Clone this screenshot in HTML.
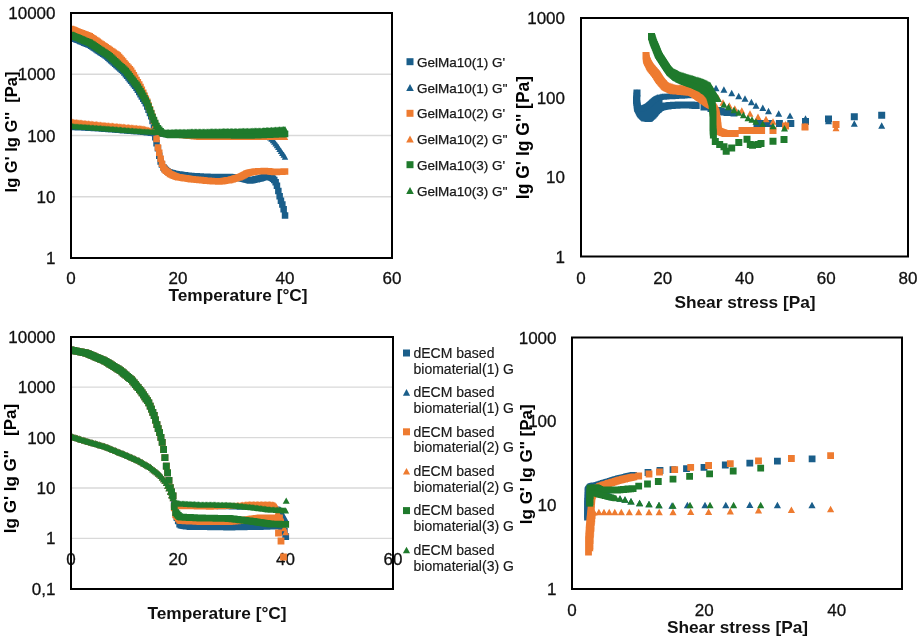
<!DOCTYPE html><html><head><meta charset="utf-8"><style>html,body{margin:0;padding:0;background:#fff;width:920px;height:641px;overflow:hidden}svg{display:block;will-change:transform}</style></head><body><svg width="920" height="641" viewBox="0 0 920 641" font-family="&quot;Liberation Sans&quot;, sans-serif">
<style>text[font-weight="normal"]{stroke:#111;stroke-width:0.3px;stroke-linejoin:round}text.lg{stroke-width:0.25px}text.lg2{stroke:#1a1a1a;stroke-width:0.18px}</style>
<rect width="920" height="641" fill="#fff"/>
<line x1="72" x2="391" y1="74.25" y2="74.25" stroke="#d9d9d9" stroke-width="1.3"/>
<line x1="72" x2="391" y1="135.5" y2="135.5" stroke="#d9d9d9" stroke-width="1.3"/>
<line x1="72" x2="391" y1="196.75" y2="196.75" stroke="#d9d9d9" stroke-width="1.3"/>
<line x1="72" x2="392" y1="387.2" y2="387.2" stroke="#d9d9d9" stroke-width="1.3"/>
<line x1="72" x2="392" y1="437.6" y2="437.6" stroke="#d9d9d9" stroke-width="1.3"/>
<line x1="72" x2="392" y1="488.0" y2="488.0" stroke="#d9d9d9" stroke-width="1.3"/>
<line x1="72" x2="392" y1="538.4" y2="538.4" stroke="#d9d9d9" stroke-width="1.3"/>
<text x="55.5" y="19" font-size="17" text-anchor="end" font-weight="normal" fill="#111">10000</text>
<text x="55.5" y="80.25" font-size="17" text-anchor="end" font-weight="normal" fill="#111">1000</text>
<text x="55.5" y="141.5" font-size="17" text-anchor="end" font-weight="normal" fill="#111">100</text>
<text x="55.5" y="202.75" font-size="17" text-anchor="end" font-weight="normal" fill="#111">10</text>
<text x="55.5" y="264" font-size="17" text-anchor="end" font-weight="normal" fill="#111">1</text>
<text x="71" y="283.5" font-size="17" text-anchor="middle" font-weight="normal" fill="#111">0</text>
<text x="178" y="283.5" font-size="17" text-anchor="middle" font-weight="normal" fill="#111">20</text>
<text x="285" y="283.5" font-size="17" text-anchor="middle" font-weight="normal" fill="#111">40</text>
<text x="392" y="283.5" font-size="17" text-anchor="middle" font-weight="normal" fill="#111">60</text>
<text x="238" y="301" font-size="17.3" text-anchor="middle" font-weight="bold" fill="#111">Temperature [°C]</text>
<text transform="translate(16.7 132) rotate(-90)" font-size="16.5" font-weight="bold" text-anchor="middle" fill="#000" xml:space="preserve">lg G' lg G''  [Pa]</text>
<text x="565" y="24" font-size="17" text-anchor="end" font-weight="normal" fill="#111">1000</text>
<text x="565" y="103.5" font-size="17" text-anchor="end" font-weight="normal" fill="#111">100</text>
<text x="565" y="183" font-size="17" text-anchor="end" font-weight="normal" fill="#111">10</text>
<text x="565" y="262.5" font-size="17" text-anchor="end" font-weight="normal" fill="#111">1</text>
<text x="581" y="284" font-size="17" text-anchor="middle" font-weight="normal" fill="#111">0</text>
<text x="662.7" y="284" font-size="17" text-anchor="middle" font-weight="normal" fill="#111">20</text>
<text x="744.5" y="284" font-size="17" text-anchor="middle" font-weight="normal" fill="#111">40</text>
<text x="826.2" y="284" font-size="17" text-anchor="middle" font-weight="normal" fill="#111">60</text>
<text x="908" y="284" font-size="17" text-anchor="middle" font-weight="normal" fill="#111">80</text>
<text x="745" y="308" font-size="17.3" text-anchor="middle" font-weight="bold" fill="#111">Shear stress [Pa]</text>
<text transform="translate(528.8 137.5) rotate(-90)" font-size="17.5" font-weight="bold" text-anchor="middle" fill="#000">lg G' lg G'' [Pa]</text>
<text x="55.5" y="343" font-size="17" text-anchor="end" font-weight="normal" fill="#111">10000</text>
<text x="55.5" y="393.2" font-size="17" text-anchor="end" font-weight="normal" fill="#111">1000</text>
<text x="55.5" y="443.6" font-size="17" text-anchor="end" font-weight="normal" fill="#111">100</text>
<text x="55.5" y="494.0" font-size="17" text-anchor="end" font-weight="normal" fill="#111">10</text>
<text x="55.5" y="544.4" font-size="17" text-anchor="end" font-weight="normal" fill="#111">1</text>
<text x="55.5" y="595" font-size="17" text-anchor="end" font-weight="normal" fill="#111">0,1</text>
<text x="71" y="564.5" font-size="17" text-anchor="middle" font-weight="normal" fill="#111">0</text>
<text x="178" y="564.5" font-size="17" text-anchor="middle" font-weight="normal" fill="#111">20</text>
<text x="285.5" y="564.5" font-size="17" text-anchor="middle" font-weight="normal" fill="#111">40</text>
<text x="393" y="564.5" font-size="17" text-anchor="middle" font-weight="normal" fill="#111">60</text>
<text x="217" y="619" font-size="17.3" text-anchor="middle" font-weight="bold" fill="#111">Temperature [°C]</text>
<text transform="translate(16.3 468.5) rotate(-90)" font-size="17" font-weight="bold" text-anchor="middle" fill="#000" xml:space="preserve">lg G' lg G''   [Pa]</text>
<text x="556.5" y="343.5" font-size="17" text-anchor="end" font-weight="normal" fill="#111">1000</text>
<text x="556.5" y="427.2" font-size="17" text-anchor="end" font-weight="normal" fill="#111">100</text>
<text x="556.5" y="510.8" font-size="17" text-anchor="end" font-weight="normal" fill="#111">10</text>
<text x="556.5" y="594.5" font-size="17" text-anchor="end" font-weight="normal" fill="#111">1</text>
<text x="572" y="615.5" font-size="17" text-anchor="middle" font-weight="normal" fill="#111">0</text>
<text x="704.2" y="615.5" font-size="17" text-anchor="middle" font-weight="normal" fill="#111">20</text>
<text x="836.8" y="615.5" font-size="17" text-anchor="middle" font-weight="normal" fill="#111">40</text>
<text x="737.5" y="632.5" font-size="17.3" text-anchor="middle" font-weight="bold" fill="#111">Shear stress [Pa]</text>
<text transform="translate(531.8 464.3) rotate(-90)" font-size="17" font-weight="bold" text-anchor="middle" fill="#000">lg G' lg G'' [Pa]</text>
<path fill="#1a5e8a" d="M406.5 58.2h7v7h-7z"/>
<text x="417" y="66.95" font-size="13.5" text-anchor="start" font-weight="normal" fill="#1a1a1a" class="lg">GelMa10(1) G&#39;</text>
<path fill="#1a5e8a" d="M410.0 84.0l3.8 6.992h-7.6z"/>
<text x="417" y="92.7" font-size="13.5" text-anchor="start" font-weight="normal" fill="#1a1a1a" class="lg">GelMa10(1) G&#39;&#39;</text>
<path fill="#ee7b30" d="M406.5 109.8h7v7h-7z"/>
<text x="417" y="118.45" font-size="13.5" text-anchor="start" font-weight="normal" fill="#1a1a1a" class="lg">GelMa10(2) G&#39;</text>
<path fill="#ee7b30" d="M410.0 135.5l3.8 6.992h-7.6z"/>
<text x="417" y="144.2" font-size="13.5" text-anchor="start" font-weight="normal" fill="#1a1a1a" class="lg">GelMa10(2) G&#39;&#39;</text>
<path fill="#1f7a2c" d="M406.5 161.2h7v7h-7z"/>
<text x="417" y="169.95" font-size="13.5" text-anchor="start" font-weight="normal" fill="#1a1a1a" class="lg">GelMa10(3) G&#39;</text>
<path fill="#1f7a2c" d="M410.0 187.0l3.8 6.992h-7.6z"/>
<text x="417" y="195.7" font-size="13.5" text-anchor="start" font-weight="normal" fill="#1a1a1a" class="lg">GelMa10(3) G&#39;&#39;</text>
<path fill="#1a5e8a" d="M403.0 349.5h7v7h-7z"/>
<text x="413.5" y="357.8" font-size="14" text-anchor="start" font-weight="normal" fill="#1a1a1a" class="lg2">dECM based</text>
<text x="413.5" y="373.6" font-size="14" text-anchor="start" font-weight="normal" fill="#1a1a1a" class="lg2">biomaterial(1) G</text>
<path fill="#1a5e8a" d="M406.5 389.1l3.6 6.624h-7.2z"/>
<text x="413.5" y="397.2" font-size="14" text-anchor="start" font-weight="normal" fill="#1a1a1a" class="lg2">dECM based</text>
<text x="413.5" y="413.0" font-size="14" text-anchor="start" font-weight="normal" fill="#1a1a1a" class="lg2">biomaterial(1) G</text>
<path fill="#ee7b30" d="M403.0 428.3h7v7h-7z"/>
<text x="413.5" y="436.6" font-size="14" text-anchor="start" font-weight="normal" fill="#1a1a1a" class="lg2">dECM based</text>
<text x="413.5" y="452.40000000000003" font-size="14" text-anchor="start" font-weight="normal" fill="#1a1a1a" class="lg2">biomaterial(2) G</text>
<path fill="#ee7b30" d="M406.5 467.9l3.6 6.624h-7.2z"/>
<text x="413.5" y="476.0" font-size="14" text-anchor="start" font-weight="normal" fill="#1a1a1a" class="lg2">dECM based</text>
<text x="413.5" y="491.8" font-size="14" text-anchor="start" font-weight="normal" fill="#1a1a1a" class="lg2">biomaterial(2) G</text>
<path fill="#1f7a2c" d="M403.0 507.1h7v7h-7z"/>
<text x="413.5" y="515.4" font-size="14" text-anchor="start" font-weight="normal" fill="#1a1a1a" class="lg2">dECM based</text>
<text x="413.5" y="531.2" font-size="14" text-anchor="start" font-weight="normal" fill="#1a1a1a" class="lg2">biomaterial(3) G</text>
<path fill="#1f7a2c" d="M406.5 546.7l3.6 6.624h-7.2z"/>
<text x="413.5" y="554.8" font-size="14" text-anchor="start" font-weight="normal" fill="#1a1a1a" class="lg2">dECM based</text>
<text x="413.5" y="570.6" font-size="14" text-anchor="start" font-weight="normal" fill="#1a1a1a" class="lg2">biomaterial(3) G</text>
<defs>
<clipPath id="cTL"><rect x="71" y="13" width="321" height="245"/></clipPath>
<clipPath id="cBL"><rect x="71" y="337" width="322" height="252"/></clipPath>
<clipPath id="cTR"><rect x="581" y="18" width="327" height="238.5"/></clipPath>
<clipPath id="cBR"><rect x="572" y="337.5" width="330" height="251.5"/></clipPath>
</defs>
<path fill="#1a5e8a" d="M67.8 33.8h6.5v6.5h-6.5zM69.1 34.3h6.5v6.5h-6.5zM70.4 34.9h6.5v6.5h-6.5zM71.8 35.4h6.5v6.5h-6.5zM73.1 36.0h6.5v6.5h-6.5zM74.4 36.6h6.5v6.5h-6.5zM75.8 37.1h6.5v6.5h-6.5zM77.1 37.7h6.5v6.5h-6.5zM78.5 38.3h6.5v6.5h-6.5zM79.8 38.8h6.5v6.5h-6.5zM81.1 39.4h6.5v6.5h-6.5zM82.5 39.9h6.5v6.5h-6.5zM83.8 40.5h6.5v6.5h-6.5zM85.1 41.1h6.5v6.5h-6.5zM86.5 41.6h6.5v6.5h-6.5zM87.8 42.5h6.5v6.5h-6.5zM89.2 43.3h6.5v6.5h-6.5zM90.5 44.2h6.5v6.5h-6.5zM91.8 45.1h6.5v6.5h-6.5zM93.2 46.0h6.5v6.5h-6.5zM94.5 46.9h6.5v6.5h-6.5zM95.8 47.8h6.5v6.5h-6.5zM97.2 48.7h6.5v6.5h-6.5zM98.5 49.5h6.5v6.5h-6.5zM99.8 50.4h6.5v6.5h-6.5zM101.2 51.3h6.5v6.5h-6.5zM102.5 52.2h6.5v6.5h-6.5zM103.9 53.3h6.5v6.5h-6.5zM105.2 54.5h6.5v6.5h-6.5zM106.5 55.7h6.5v6.5h-6.5zM107.9 56.9h6.5v6.5h-6.5zM109.2 58.1h6.5v6.5h-6.5zM110.5 59.3h6.5v6.5h-6.5zM111.9 60.5h6.5v6.5h-6.5zM113.2 61.7h6.5v6.5h-6.5zM114.6 62.9h6.5v6.5h-6.5zM115.9 64.1h6.5v6.5h-6.5zM117.2 65.3h6.5v6.5h-6.5zM118.6 66.5h6.5v6.5h-6.5zM119.9 67.6h6.5v6.5h-6.5zM121.2 69.2h6.5v6.5h-6.5zM122.6 70.9h6.5v6.5h-6.5zM123.9 72.5h6.5v6.5h-6.5zM125.3 74.2h6.5v6.5h-6.5zM126.6 75.9h6.5v6.5h-6.5zM127.9 77.5h6.5v6.5h-6.5zM129.3 79.2h6.5v6.5h-6.5zM130.6 80.9h6.5v6.5h-6.5zM131.9 82.6h6.5v6.5h-6.5zM133.3 84.4h6.5v6.5h-6.5zM134.6 86.6h6.5v6.5h-6.5zM136.0 88.8h6.5v6.5h-6.5zM137.3 91.0h6.5v6.5h-6.5zM138.6 93.2h6.5v6.5h-6.5zM140.0 95.4h6.5v6.5h-6.5zM141.3 97.6h6.5v6.5h-6.5zM142.6 100.1h6.5v6.5h-6.5zM144.0 103.3h6.5v6.5h-6.5zM145.3 106.5h6.5v6.5h-6.5zM146.7 109.7h6.5v6.5h-6.5zM148.0 113.0h6.5v6.5h-6.5zM149.3 117.7h6.5v6.5h-6.5zM150.7 124.4h6.5v6.5h-6.5zM152.0 134.0h6.5v6.5h-6.5zM153.3 140.0h6.5v6.5h-6.5zM154.7 145.1h6.5v6.5h-6.5zM156.0 152.6h6.5v6.5h-6.5zM157.4 158.2h6.5v6.5h-6.5zM158.7 161.3h6.5v6.5h-6.5zM160.0 164.0h6.5v6.5h-6.5zM161.4 165.4h6.5v6.5h-6.5zM162.7 166.7h6.5v6.5h-6.5zM164.1 168.1h6.5v6.5h-6.5zM165.4 168.9h6.5v6.5h-6.5zM166.7 169.3h6.5v6.5h-6.5zM168.1 169.7h6.5v6.5h-6.5zM169.4 170.1h6.5v6.5h-6.5zM170.7 170.5h6.5v6.5h-6.5zM172.1 170.8h6.5v6.5h-6.5zM173.4 171.0h6.5v6.5h-6.5zM174.8 171.2h6.5v6.5h-6.5zM176.1 171.3h6.5v6.5h-6.5zM177.4 171.5h6.5v6.5h-6.5zM178.8 171.7h6.5v6.5h-6.5zM180.1 171.9h6.5v6.5h-6.5zM181.4 172.0h6.5v6.5h-6.5zM182.8 172.2h6.5v6.5h-6.5zM184.1 172.4h6.5v6.5h-6.5zM185.4 172.6h6.5v6.5h-6.5zM186.8 172.8h6.5v6.5h-6.5zM188.1 172.8h6.5v6.5h-6.5zM189.5 172.9h6.5v6.5h-6.5zM190.8 173.0h6.5v6.5h-6.5zM192.1 173.0h6.5v6.5h-6.5zM193.5 173.1h6.5v6.5h-6.5zM194.8 173.2h6.5v6.5h-6.5zM196.1 173.2h6.5v6.5h-6.5zM197.5 173.3h6.5v6.5h-6.5zM198.8 173.4h6.5v6.5h-6.5zM200.2 173.4h6.5v6.5h-6.5zM201.5 173.5h6.5v6.5h-6.5zM202.8 173.6h6.5v6.5h-6.5zM204.2 173.6h6.5v6.5h-6.5zM205.5 173.7h6.5v6.5h-6.5zM206.8 173.8h6.5v6.5h-6.5zM208.2 173.8h6.5v6.5h-6.5zM209.5 173.8h6.5v6.5h-6.5zM210.9 173.8h6.5v6.5h-6.5zM212.2 173.8h6.5v6.5h-6.5zM213.5 173.8h6.5v6.5h-6.5zM214.9 173.8h6.5v6.5h-6.5zM216.2 173.8h6.5v6.5h-6.5zM217.5 173.8h6.5v6.5h-6.5zM218.9 173.8h6.5v6.5h-6.5zM220.2 173.8h6.5v6.5h-6.5zM221.6 173.8h6.5v6.5h-6.5zM222.9 173.8h6.5v6.5h-6.5zM224.2 173.8h6.5v6.5h-6.5zM225.6 173.8h6.5v6.5h-6.5zM226.9 173.8h6.5v6.5h-6.5zM228.2 173.9h6.5v6.5h-6.5zM229.6 174.0h6.5v6.5h-6.5zM230.9 174.2h6.5v6.5h-6.5zM232.3 174.3h6.5v6.5h-6.5zM233.6 174.4h6.5v6.5h-6.5zM234.9 174.6h6.5v6.5h-6.5zM236.3 174.7h6.5v6.5h-6.5zM237.6 175.0h6.5v6.5h-6.5zM238.9 175.3h6.5v6.5h-6.5zM240.3 175.6h6.5v6.5h-6.5zM241.6 176.0h6.5v6.5h-6.5zM243.0 176.3h6.5v6.5h-6.5zM244.3 176.6h6.5v6.5h-6.5zM245.6 177.0h6.5v6.5h-6.5zM247.0 177.2h6.5v6.5h-6.5zM248.3 176.9h6.5v6.5h-6.5zM249.6 176.7h6.5v6.5h-6.5zM251.0 176.4h6.5v6.5h-6.5zM252.3 176.1h6.5v6.5h-6.5zM253.7 175.9h6.5v6.5h-6.5zM255.0 175.6h6.5v6.5h-6.5zM256.3 175.3h6.5v6.5h-6.5zM257.7 174.9h6.5v6.5h-6.5zM259.0 174.4h6.5v6.5h-6.5zM260.4 174.0h6.5v6.5h-6.5zM261.7 173.5h6.5v6.5h-6.5zM263.0 173.0h6.5v6.5h-6.5zM264.4 173.0h6.5v6.5h-6.5zM265.7 173.5h6.5v6.5h-6.5zM267.0 174.1h6.5v6.5h-6.5zM268.4 174.6h6.5v6.5h-6.5zM269.7 175.6h6.5v6.5h-6.5zM271.0 176.7h6.5v6.5h-6.5zM272.4 179.0h6.5v6.5h-6.5zM273.7 182.5h6.5v6.5h-6.5zM275.1 187.7h6.5v6.5h-6.5zM276.4 192.9h6.5v6.5h-6.5zM277.7 197.4h6.5v6.5h-6.5zM279.1 201.2h6.5v6.5h-6.5zM280.4 205.9h6.5v6.5h-6.5zM281.8 212.3h6.5v6.5h-6.5z" clip-path="url(#cTL)"/>
<path fill="#1a5e8a" d="M71.0 124.0l3.25 5.98h-6.5zM72.3 124.1l3.25 5.98h-6.5zM73.7 124.1l3.25 5.98h-6.5zM75.0 124.2l3.25 5.98h-6.5zM76.3 124.3l3.25 5.98h-6.5zM77.7 124.4l3.25 5.98h-6.5zM79.0 124.4l3.25 5.98h-6.5zM80.4 124.5l3.25 5.98h-6.5zM81.7 124.6l3.25 5.98h-6.5zM83.0 124.6l3.25 5.98h-6.5zM84.4 124.7l3.25 5.98h-6.5zM85.7 124.8l3.25 5.98h-6.5zM87.0 124.8l3.25 5.98h-6.5zM88.4 124.9l3.25 5.98h-6.5zM89.7 125.0l3.25 5.98h-6.5zM91.1 125.0l3.25 5.98h-6.5zM92.4 125.1l3.25 5.98h-6.5zM93.7 125.2l3.25 5.98h-6.5zM95.1 125.3l3.25 5.98h-6.5zM96.4 125.3l3.25 5.98h-6.5zM97.8 125.4l3.25 5.98h-6.5zM99.1 125.5l3.25 5.98h-6.5zM100.4 125.5l3.25 5.98h-6.5zM101.8 125.7l3.25 5.98h-6.5zM103.1 125.8l3.25 5.98h-6.5zM104.4 125.9l3.25 5.98h-6.5zM105.8 126.0l3.25 5.98h-6.5zM107.1 126.1l3.25 5.98h-6.5zM108.4 126.2l3.25 5.98h-6.5zM109.8 126.3l3.25 5.98h-6.5zM111.1 126.4l3.25 5.98h-6.5zM112.5 126.5l3.25 5.98h-6.5zM113.8 126.6l3.25 5.98h-6.5zM115.1 126.7l3.25 5.98h-6.5zM116.5 126.8l3.25 5.98h-6.5zM117.8 126.9l3.25 5.98h-6.5zM119.2 127.0l3.25 5.98h-6.5zM120.5 127.1l3.25 5.98h-6.5zM121.8 127.2l3.25 5.98h-6.5zM123.2 127.4l3.25 5.98h-6.5zM124.5 127.5l3.25 5.98h-6.5zM125.8 127.6l3.25 5.98h-6.5zM127.2 127.7l3.25 5.98h-6.5zM128.5 127.8l3.25 5.98h-6.5zM129.8 127.9l3.25 5.98h-6.5zM131.2 128.0l3.25 5.98h-6.5zM132.5 128.1l3.25 5.98h-6.5zM133.9 128.2l3.25 5.98h-6.5zM135.2 128.3l3.25 5.98h-6.5zM136.5 128.4l3.25 5.98h-6.5zM137.9 128.5l3.25 5.98h-6.5zM139.2 128.6l3.25 5.98h-6.5zM140.6 128.7l3.25 5.98h-6.5zM141.9 128.8l3.25 5.98h-6.5zM143.2 128.9l3.25 5.98h-6.5zM144.6 129.1l3.25 5.98h-6.5zM145.9 129.2l3.25 5.98h-6.5zM147.2 129.4l3.25 5.98h-6.5zM148.6 129.6l3.25 5.98h-6.5zM149.9 129.7l3.25 5.98h-6.5zM151.2 129.9l3.25 5.98h-6.5zM152.6 130.1l3.25 5.98h-6.5zM153.9 130.3l3.25 5.98h-6.5zM155.3 130.4l3.25 5.98h-6.5zM156.6 130.6l3.25 5.98h-6.5zM157.9 130.8l3.25 5.98h-6.5zM159.3 130.9l3.25 5.98h-6.5zM160.6 131.0l3.25 5.98h-6.5zM161.9 131.1l3.25 5.98h-6.5zM163.3 131.1l3.25 5.98h-6.5zM164.6 131.1l3.25 5.98h-6.5zM166.0 131.2l3.25 5.98h-6.5zM167.3 131.2l3.25 5.98h-6.5zM168.6 131.2l3.25 5.98h-6.5zM170.0 131.3l3.25 5.98h-6.5zM171.3 131.3l3.25 5.98h-6.5zM172.6 131.3l3.25 5.98h-6.5zM174.0 131.4l3.25 5.98h-6.5zM175.3 131.4l3.25 5.98h-6.5zM176.7 131.4l3.25 5.98h-6.5zM178.0 131.5l3.25 5.98h-6.5zM179.3 131.5l3.25 5.98h-6.5zM180.7 131.5l3.25 5.98h-6.5zM182.0 131.6l3.25 5.98h-6.5zM183.3 131.6l3.25 5.98h-6.5zM184.7 131.6l3.25 5.98h-6.5zM186.0 131.7l3.25 5.98h-6.5zM187.4 131.7l3.25 5.98h-6.5zM188.7 131.7l3.25 5.98h-6.5zM190.0 131.8l3.25 5.98h-6.5zM191.4 131.8l3.25 5.98h-6.5zM192.7 131.8l3.25 5.98h-6.5zM194.1 131.9l3.25 5.98h-6.5zM195.4 131.9l3.25 5.98h-6.5zM196.7 131.9l3.25 5.98h-6.5zM198.1 132.0l3.25 5.98h-6.5zM199.4 132.0l3.25 5.98h-6.5zM200.7 132.0l3.25 5.98h-6.5zM202.1 132.0l3.25 5.98h-6.5zM203.4 132.0l3.25 5.98h-6.5zM204.8 132.0l3.25 5.98h-6.5zM206.1 132.0l3.25 5.98h-6.5zM207.4 132.0l3.25 5.98h-6.5zM208.8 132.0l3.25 5.98h-6.5zM210.1 132.0l3.25 5.98h-6.5zM211.4 132.0l3.25 5.98h-6.5zM212.8 132.0l3.25 5.98h-6.5zM214.1 132.0l3.25 5.98h-6.5zM215.4 132.0l3.25 5.98h-6.5zM216.8 132.0l3.25 5.98h-6.5zM218.1 132.0l3.25 5.98h-6.5zM219.5 132.0l3.25 5.98h-6.5zM220.8 132.0l3.25 5.98h-6.5zM222.1 132.0l3.25 5.98h-6.5zM223.5 132.0l3.25 5.98h-6.5zM224.8 132.0l3.25 5.98h-6.5zM226.1 132.0l3.25 5.98h-6.5zM227.5 132.0l3.25 5.98h-6.5zM228.8 132.0l3.25 5.98h-6.5zM230.2 132.0l3.25 5.98h-6.5zM231.5 132.0l3.25 5.98h-6.5zM232.8 132.0l3.25 5.98h-6.5zM234.2 132.0l3.25 5.98h-6.5zM235.5 132.0l3.25 5.98h-6.5zM236.8 132.0l3.25 5.98h-6.5zM238.2 132.0l3.25 5.98h-6.5zM239.5 132.0l3.25 5.98h-6.5zM240.9 132.0l3.25 5.98h-6.5zM242.2 132.0l3.25 5.98h-6.5zM243.5 132.0l3.25 5.98h-6.5zM244.9 132.0l3.25 5.98h-6.5zM246.2 132.0l3.25 5.98h-6.5zM247.5 132.0l3.25 5.98h-6.5zM248.9 132.0l3.25 5.98h-6.5zM250.2 132.0l3.25 5.98h-6.5zM251.6 132.0l3.25 5.98h-6.5zM252.9 132.0l3.25 5.98h-6.5zM254.2 132.0l3.25 5.98h-6.5zM255.6 132.0l3.25 5.98h-6.5zM256.9 132.0l3.25 5.98h-6.5zM258.2 132.0l3.25 5.98h-6.5zM259.6 132.0l3.25 5.98h-6.5zM260.9 132.0l3.25 5.98h-6.5zM262.3 132.0l3.25 5.98h-6.5zM263.6 132.0l3.25 5.98h-6.5zM264.9 132.0l3.25 5.98h-6.5zM266.3 132.0l3.25 5.98h-6.5zM267.6 132.0l3.25 5.98h-6.5zM268.9 133.0l3.25 5.98h-6.5zM270.3 134.4l3.25 5.98h-6.5zM271.6 135.8l3.25 5.98h-6.5zM273.0 137.2l3.25 5.98h-6.5zM274.3 138.8l3.25 5.98h-6.5zM275.6 140.6l3.25 5.98h-6.5zM277.0 142.3l3.25 5.98h-6.5zM278.3 144.1l3.25 5.98h-6.5zM279.6 146.0l3.25 5.98h-6.5zM281.0 147.9l3.25 5.98h-6.5zM282.3 149.9l3.25 5.98h-6.5zM283.7 151.8l3.25 5.98h-6.5zM285.0 153.8l3.25 5.98h-6.5z" clip-path="url(#cTL)"/>
<path fill="#ee7b30" d="M67.8 25.8h6.5v6.5h-6.5zM69.1 26.3h6.5v6.5h-6.5zM70.4 26.8h6.5v6.5h-6.5zM71.8 27.3h6.5v6.5h-6.5zM73.1 27.9h6.5v6.5h-6.5zM74.4 28.4h6.5v6.5h-6.5zM75.8 28.9h6.5v6.5h-6.5zM77.1 29.4h6.5v6.5h-6.5zM78.5 30.0h6.5v6.5h-6.5zM79.8 30.5h6.5v6.5h-6.5zM81.1 31.0h6.5v6.5h-6.5zM82.5 31.6h6.5v6.5h-6.5zM83.8 32.1h6.5v6.5h-6.5zM85.1 32.6h6.5v6.5h-6.5zM86.5 33.1h6.5v6.5h-6.5zM87.8 34.0h6.5v6.5h-6.5zM89.2 34.9h6.5v6.5h-6.5zM90.5 35.8h6.5v6.5h-6.5zM91.8 36.7h6.5v6.5h-6.5zM93.2 37.6h6.5v6.5h-6.5zM94.5 38.5h6.5v6.5h-6.5zM95.8 39.4h6.5v6.5h-6.5zM97.2 40.4h6.5v6.5h-6.5zM98.5 41.3h6.5v6.5h-6.5zM99.8 42.2h6.5v6.5h-6.5zM101.2 43.1h6.5v6.5h-6.5zM102.5 44.0h6.5v6.5h-6.5zM103.9 44.9h6.5v6.5h-6.5zM105.2 45.8h6.5v6.5h-6.5zM106.5 46.7h6.5v6.5h-6.5zM107.9 47.7h6.5v6.5h-6.5zM109.2 48.6h6.5v6.5h-6.5zM110.5 49.5h6.5v6.5h-6.5zM111.9 50.4h6.5v6.5h-6.5zM113.2 51.3h6.5v6.5h-6.5zM114.6 52.2h6.5v6.5h-6.5zM115.9 53.7h6.5v6.5h-6.5zM117.2 55.2h6.5v6.5h-6.5zM118.6 56.8h6.5v6.5h-6.5zM119.9 58.3h6.5v6.5h-6.5zM121.2 59.9h6.5v6.5h-6.5zM122.6 61.4h6.5v6.5h-6.5zM123.9 63.0h6.5v6.5h-6.5zM125.3 64.5h6.5v6.5h-6.5zM126.6 66.0h6.5v6.5h-6.5zM127.9 67.6h6.5v6.5h-6.5zM129.3 69.7h6.5v6.5h-6.5zM130.6 72.0h6.5v6.5h-6.5zM131.9 74.4h6.5v6.5h-6.5zM133.3 76.7h6.5v6.5h-6.5zM134.6 79.0h6.5v6.5h-6.5zM136.0 81.3h6.5v6.5h-6.5zM137.3 83.7h6.5v6.5h-6.5zM138.6 86.6h6.5v6.5h-6.5zM140.0 89.6h6.5v6.5h-6.5zM141.3 92.6h6.5v6.5h-6.5zM142.6 95.6h6.5v6.5h-6.5zM144.0 98.6h6.5v6.5h-6.5zM145.3 102.2h6.5v6.5h-6.5zM146.7 106.0h6.5v6.5h-6.5zM148.0 109.8h6.5v6.5h-6.5zM149.3 113.6h6.5v6.5h-6.5zM150.7 117.5h6.5v6.5h-6.5zM152.0 121.5h6.5v6.5h-6.5zM153.3 135.7h6.5v6.5h-6.5zM154.7 144.2h6.5v6.5h-6.5zM156.0 149.5h6.5v6.5h-6.5zM157.4 155.4h6.5v6.5h-6.5zM158.7 160.6h6.5v6.5h-6.5zM160.0 164.0h6.5v6.5h-6.5zM161.4 166.3h6.5v6.5h-6.5zM162.7 167.4h6.5v6.5h-6.5zM164.1 168.5h6.5v6.5h-6.5zM165.4 169.6h6.5v6.5h-6.5zM166.7 170.7h6.5v6.5h-6.5zM168.1 171.3h6.5v6.5h-6.5zM169.4 171.9h6.5v6.5h-6.5zM170.7 172.5h6.5v6.5h-6.5zM172.1 173.0h6.5v6.5h-6.5zM173.4 173.6h6.5v6.5h-6.5zM174.8 173.9h6.5v6.5h-6.5zM176.1 174.1h6.5v6.5h-6.5zM177.4 174.3h6.5v6.5h-6.5zM178.8 174.5h6.5v6.5h-6.5zM180.1 174.7h6.5v6.5h-6.5zM181.4 174.9h6.5v6.5h-6.5zM182.8 175.1h6.5v6.5h-6.5zM184.1 175.3h6.5v6.5h-6.5zM185.4 175.6h6.5v6.5h-6.5zM186.8 175.8h6.5v6.5h-6.5zM188.1 175.9h6.5v6.5h-6.5zM189.5 176.0h6.5v6.5h-6.5zM190.8 176.2h6.5v6.5h-6.5zM192.1 176.3h6.5v6.5h-6.5zM193.5 176.4h6.5v6.5h-6.5zM194.8 176.6h6.5v6.5h-6.5zM196.1 176.7h6.5v6.5h-6.5zM197.5 176.8h6.5v6.5h-6.5zM198.8 177.0h6.5v6.5h-6.5zM200.2 177.1h6.5v6.5h-6.5zM201.5 177.2h6.5v6.5h-6.5zM202.8 177.4h6.5v6.5h-6.5zM204.2 177.5h6.5v6.5h-6.5zM205.5 177.6h6.5v6.5h-6.5zM206.8 177.8h6.5v6.5h-6.5zM208.2 177.8h6.5v6.5h-6.5zM209.5 177.9h6.5v6.5h-6.5zM210.9 178.0h6.5v6.5h-6.5zM212.2 178.0h6.5v6.5h-6.5zM213.5 178.1h6.5v6.5h-6.5zM214.9 178.2h6.5v6.5h-6.5zM216.2 178.2h6.5v6.5h-6.5zM217.5 178.1h6.5v6.5h-6.5zM218.9 177.9h6.5v6.5h-6.5zM220.2 177.7h6.5v6.5h-6.5zM221.6 177.5h6.5v6.5h-6.5zM222.9 177.3h6.5v6.5h-6.5zM224.2 177.1h6.5v6.5h-6.5zM225.6 176.9h6.5v6.5h-6.5zM226.9 176.7h6.5v6.5h-6.5zM228.2 176.3h6.5v6.5h-6.5zM229.6 175.9h6.5v6.5h-6.5zM230.9 175.5h6.5v6.5h-6.5zM232.3 175.1h6.5v6.5h-6.5zM233.6 174.7h6.5v6.5h-6.5zM234.9 174.3h6.5v6.5h-6.5zM236.3 173.9h6.5v6.5h-6.5zM237.6 173.3h6.5v6.5h-6.5zM238.9 172.7h6.5v6.5h-6.5zM240.3 172.0h6.5v6.5h-6.5zM241.6 171.3h6.5v6.5h-6.5zM243.0 170.6h6.5v6.5h-6.5zM244.3 170.0h6.5v6.5h-6.5zM245.6 169.6h6.5v6.5h-6.5zM247.0 169.3h6.5v6.5h-6.5zM248.3 169.0h6.5v6.5h-6.5zM249.6 168.7h6.5v6.5h-6.5zM251.0 168.4h6.5v6.5h-6.5zM252.3 168.2h6.5v6.5h-6.5zM253.7 168.2h6.5v6.5h-6.5zM255.0 168.1h6.5v6.5h-6.5zM256.3 168.0h6.5v6.5h-6.5zM257.7 168.0h6.5v6.5h-6.5zM259.0 167.9h6.5v6.5h-6.5zM260.4 167.8h6.5v6.5h-6.5zM261.7 167.8h6.5v6.5h-6.5zM263.0 167.9h6.5v6.5h-6.5zM264.4 168.0h6.5v6.5h-6.5zM265.7 168.1h6.5v6.5h-6.5zM267.0 168.3h6.5v6.5h-6.5zM268.4 168.4h6.5v6.5h-6.5zM269.7 168.5h6.5v6.5h-6.5zM271.0 168.7h6.5v6.5h-6.5zM272.4 168.7h6.5v6.5h-6.5zM273.7 168.7h6.5v6.5h-6.5zM275.1 168.6h6.5v6.5h-6.5zM276.4 168.5h6.5v6.5h-6.5zM277.7 168.5h6.5v6.5h-6.5zM279.1 168.4h6.5v6.5h-6.5zM280.4 168.3h6.5v6.5h-6.5zM281.8 168.2h6.5v6.5h-6.5z" clip-path="url(#cTL)"/>
<path fill="#ee7b30" d="M71.0 118.5l3.25 5.98h-6.5zM72.3 118.6l3.25 5.98h-6.5zM73.7 118.8l3.25 5.98h-6.5zM75.0 118.9l3.25 5.98h-6.5zM76.3 119.1l3.25 5.98h-6.5zM77.7 119.2l3.25 5.98h-6.5zM79.0 119.3l3.25 5.98h-6.5zM80.4 119.5l3.25 5.98h-6.5zM81.7 119.6l3.25 5.98h-6.5zM83.0 119.8l3.25 5.98h-6.5zM84.4 119.9l3.25 5.98h-6.5zM85.7 120.0l3.25 5.98h-6.5zM87.0 120.2l3.25 5.98h-6.5zM88.4 120.3l3.25 5.98h-6.5zM89.7 120.4l3.25 5.98h-6.5zM91.1 120.6l3.25 5.98h-6.5zM92.4 120.7l3.25 5.98h-6.5zM93.7 120.9l3.25 5.98h-6.5zM95.1 121.0l3.25 5.98h-6.5zM96.4 121.1l3.25 5.98h-6.5zM97.8 121.3l3.25 5.98h-6.5zM99.1 121.4l3.25 5.98h-6.5zM100.4 121.5l3.25 5.98h-6.5zM101.8 121.7l3.25 5.98h-6.5zM103.1 121.8l3.25 5.98h-6.5zM104.4 121.9l3.25 5.98h-6.5zM105.8 122.0l3.25 5.98h-6.5zM107.1 122.2l3.25 5.98h-6.5zM108.4 122.3l3.25 5.98h-6.5zM109.8 122.4l3.25 5.98h-6.5zM111.1 122.5l3.25 5.98h-6.5zM112.5 122.6l3.25 5.98h-6.5zM113.8 122.8l3.25 5.98h-6.5zM115.1 122.9l3.25 5.98h-6.5zM116.5 123.0l3.25 5.98h-6.5zM117.8 123.1l3.25 5.98h-6.5zM119.2 123.3l3.25 5.98h-6.5zM120.5 123.4l3.25 5.98h-6.5zM121.8 123.5l3.25 5.98h-6.5zM123.2 123.6l3.25 5.98h-6.5zM124.5 123.7l3.25 5.98h-6.5zM125.8 123.9l3.25 5.98h-6.5zM127.2 124.0l3.25 5.98h-6.5zM128.5 124.1l3.25 5.98h-6.5zM129.8 124.2l3.25 5.98h-6.5zM131.2 124.3l3.25 5.98h-6.5zM132.5 124.5l3.25 5.98h-6.5zM133.9 124.6l3.25 5.98h-6.5zM135.2 124.7l3.25 5.98h-6.5zM136.5 124.8l3.25 5.98h-6.5zM137.9 125.0l3.25 5.98h-6.5zM139.2 125.1l3.25 5.98h-6.5zM140.6 125.2l3.25 5.98h-6.5zM141.9 125.3l3.25 5.98h-6.5zM143.2 125.4l3.25 5.98h-6.5zM144.6 125.7l3.25 5.98h-6.5zM145.9 126.0l3.25 5.98h-6.5zM147.2 126.4l3.25 5.98h-6.5zM148.6 126.8l3.25 5.98h-6.5zM149.9 127.2l3.25 5.98h-6.5zM151.2 127.5l3.25 5.98h-6.5zM152.6 127.9l3.25 5.98h-6.5zM153.9 128.3l3.25 5.98h-6.5zM155.3 128.7l3.25 5.98h-6.5zM156.6 129.1l3.25 5.98h-6.5zM157.9 129.4l3.25 5.98h-6.5zM159.3 129.8l3.25 5.98h-6.5zM160.6 130.1l3.25 5.98h-6.5zM161.9 130.2l3.25 5.98h-6.5zM163.3 130.3l3.25 5.98h-6.5zM164.6 130.5l3.25 5.98h-6.5zM166.0 130.6l3.25 5.98h-6.5zM167.3 130.7l3.25 5.98h-6.5zM168.6 130.9l3.25 5.98h-6.5zM170.0 131.0l3.25 5.98h-6.5zM171.3 131.1l3.25 5.98h-6.5zM172.6 131.3l3.25 5.98h-6.5zM174.0 131.4l3.25 5.98h-6.5zM175.3 131.5l3.25 5.98h-6.5zM176.7 131.7l3.25 5.98h-6.5zM178.0 131.8l3.25 5.98h-6.5zM179.3 131.9l3.25 5.98h-6.5zM180.7 132.1l3.25 5.98h-6.5zM182.0 132.2l3.25 5.98h-6.5zM183.3 132.3l3.25 5.98h-6.5zM184.7 132.5l3.25 5.98h-6.5zM186.0 132.6l3.25 5.98h-6.5zM187.4 132.7l3.25 5.98h-6.5zM188.7 132.9l3.25 5.98h-6.5zM190.0 133.0l3.25 5.98h-6.5zM191.4 133.1l3.25 5.98h-6.5zM192.7 133.3l3.25 5.98h-6.5zM194.1 133.4l3.25 5.98h-6.5zM195.4 133.5l3.25 5.98h-6.5zM196.7 133.7l3.25 5.98h-6.5zM198.1 133.8l3.25 5.98h-6.5zM199.4 133.9l3.25 5.98h-6.5zM200.7 134.0l3.25 5.98h-6.5zM202.1 134.0l3.25 5.98h-6.5zM203.4 134.0l3.25 5.98h-6.5zM204.8 134.0l3.25 5.98h-6.5zM206.1 134.0l3.25 5.98h-6.5zM207.4 134.0l3.25 5.98h-6.5zM208.8 134.0l3.25 5.98h-6.5zM210.1 134.0l3.25 5.98h-6.5zM211.4 134.0l3.25 5.98h-6.5zM212.8 134.0l3.25 5.98h-6.5zM214.1 134.0l3.25 5.98h-6.5zM215.4 134.0l3.25 5.98h-6.5zM216.8 134.0l3.25 5.98h-6.5zM218.1 134.0l3.25 5.98h-6.5zM219.5 134.0l3.25 5.98h-6.5zM220.8 134.0l3.25 5.98h-6.5zM222.1 134.0l3.25 5.98h-6.5zM223.5 134.0l3.25 5.98h-6.5zM224.8 134.0l3.25 5.98h-6.5zM226.1 134.0l3.25 5.98h-6.5zM227.5 134.0l3.25 5.98h-6.5zM228.8 134.0l3.25 5.98h-6.5zM230.2 134.0l3.25 5.98h-6.5zM231.5 134.0l3.25 5.98h-6.5zM232.8 134.0l3.25 5.98h-6.5zM234.2 134.0l3.25 5.98h-6.5zM235.5 134.0l3.25 5.98h-6.5zM236.8 134.0l3.25 5.98h-6.5zM238.2 134.0l3.25 5.98h-6.5zM239.5 134.0l3.25 5.98h-6.5zM240.9 134.0l3.25 5.98h-6.5zM242.2 134.0l3.25 5.98h-6.5zM243.5 134.0l3.25 5.98h-6.5zM244.9 134.0l3.25 5.98h-6.5zM246.2 134.0l3.25 5.98h-6.5zM247.5 134.0l3.25 5.98h-6.5zM248.9 134.0l3.25 5.98h-6.5zM250.2 134.0l3.25 5.98h-6.5zM251.6 134.0l3.25 5.98h-6.5zM252.9 134.0l3.25 5.98h-6.5zM254.2 134.0l3.25 5.98h-6.5zM255.6 134.0l3.25 5.98h-6.5zM256.9 134.0l3.25 5.98h-6.5zM258.2 134.0l3.25 5.98h-6.5zM259.6 134.0l3.25 5.98h-6.5zM260.9 134.0l3.25 5.98h-6.5zM262.3 134.0l3.25 5.98h-6.5zM263.6 134.0l3.25 5.98h-6.5zM264.9 134.0l3.25 5.98h-6.5zM266.3 134.0l3.25 5.98h-6.5zM267.6 134.0l3.25 5.98h-6.5zM268.9 134.0l3.25 5.98h-6.5zM270.3 134.0l3.25 5.98h-6.5zM271.6 134.0l3.25 5.98h-6.5zM273.0 134.0l3.25 5.98h-6.5zM274.3 134.0l3.25 5.98h-6.5zM275.6 134.0l3.25 5.98h-6.5zM277.0 134.0l3.25 5.98h-6.5zM278.3 134.0l3.25 5.98h-6.5zM279.6 134.0l3.25 5.98h-6.5zM281.0 134.0l3.25 5.98h-6.5zM282.3 134.0l3.25 5.98h-6.5zM283.7 134.0l3.25 5.98h-6.5zM285.0 134.0l3.25 5.98h-6.5z" clip-path="url(#cTL)"/>
<path fill="#1f7a2c" d="M67.8 31.8h6.5v6.5h-6.5zM69.1 32.3h6.5v6.5h-6.5zM70.4 32.9h6.5v6.5h-6.5zM71.8 33.4h6.5v6.5h-6.5zM73.1 34.0h6.5v6.5h-6.5zM74.4 34.6h6.5v6.5h-6.5zM75.8 35.1h6.5v6.5h-6.5zM77.1 35.7h6.5v6.5h-6.5zM78.5 36.3h6.5v6.5h-6.5zM79.8 36.8h6.5v6.5h-6.5zM81.1 37.4h6.5v6.5h-6.5zM82.5 37.9h6.5v6.5h-6.5zM83.8 38.5h6.5v6.5h-6.5zM85.1 39.1h6.5v6.5h-6.5zM86.5 39.6h6.5v6.5h-6.5zM87.8 40.5h6.5v6.5h-6.5zM89.2 41.3h6.5v6.5h-6.5zM90.5 42.2h6.5v6.5h-6.5zM91.8 43.1h6.5v6.5h-6.5zM93.2 44.0h6.5v6.5h-6.5zM94.5 44.9h6.5v6.5h-6.5zM95.8 45.8h6.5v6.5h-6.5zM97.2 46.7h6.5v6.5h-6.5zM98.5 47.6h6.5v6.5h-6.5zM99.8 48.4h6.5v6.5h-6.5zM101.2 49.3h6.5v6.5h-6.5zM102.5 50.2h6.5v6.5h-6.5zM103.9 51.1h6.5v6.5h-6.5zM105.2 52.0h6.5v6.5h-6.5zM106.5 53.1h6.5v6.5h-6.5zM107.9 54.3h6.5v6.5h-6.5zM109.2 55.5h6.5v6.5h-6.5zM110.5 56.8h6.5v6.5h-6.5zM111.9 58.0h6.5v6.5h-6.5zM113.2 59.2h6.5v6.5h-6.5zM114.6 60.4h6.5v6.5h-6.5zM115.9 61.7h6.5v6.5h-6.5zM117.2 62.9h6.5v6.5h-6.5zM118.6 64.1h6.5v6.5h-6.5zM119.9 65.3h6.5v6.5h-6.5zM121.2 66.6h6.5v6.5h-6.5zM122.6 67.8h6.5v6.5h-6.5zM123.9 69.5h6.5v6.5h-6.5zM125.3 71.2h6.5v6.5h-6.5zM126.6 73.0h6.5v6.5h-6.5zM127.9 74.7h6.5v6.5h-6.5zM129.3 76.4h6.5v6.5h-6.5zM130.6 78.2h6.5v6.5h-6.5zM131.9 79.9h6.5v6.5h-6.5zM133.3 81.6h6.5v6.5h-6.5zM134.6 83.4h6.5v6.5h-6.5zM136.0 85.7h6.5v6.5h-6.5zM137.3 88.0h6.5v6.5h-6.5zM138.6 90.3h6.5v6.5h-6.5zM140.0 92.6h6.5v6.5h-6.5zM141.3 94.9h6.5v6.5h-6.5zM142.6 97.2h6.5v6.5h-6.5zM144.0 99.8h6.5v6.5h-6.5zM145.3 103.2h6.5v6.5h-6.5zM146.7 106.7h6.5v6.5h-6.5zM148.0 110.2h6.5v6.5h-6.5zM149.3 113.7h6.5v6.5h-6.5zM150.7 116.8h6.5v6.5h-6.5zM152.0 119.8h6.5v6.5h-6.5zM153.3 122.8h6.5v6.5h-6.5zM154.7 124.9h6.5v6.5h-6.5zM156.0 126.5h6.5v6.5h-6.5zM157.4 128.1h6.5v6.5h-6.5zM158.7 129.7h6.5v6.5h-6.5zM160.0 130.1h6.5v6.5h-6.5zM161.4 130.4h6.5v6.5h-6.5zM162.7 130.7h6.5v6.5h-6.5zM164.1 131.1h6.5v6.5h-6.5zM165.4 131.4h6.5v6.5h-6.5zM166.7 131.7h6.5v6.5h-6.5zM168.1 131.8h6.5v6.5h-6.5zM169.4 131.8h6.5v6.5h-6.5zM170.7 131.8h6.5v6.5h-6.5zM172.1 131.8h6.5v6.5h-6.5zM173.4 131.8h6.5v6.5h-6.5zM174.8 131.8h6.5v6.5h-6.5zM176.1 131.8h6.5v6.5h-6.5zM177.4 131.8h6.5v6.5h-6.5zM178.8 131.8h6.5v6.5h-6.5zM180.1 131.8h6.5v6.5h-6.5zM181.4 131.8h6.5v6.5h-6.5zM182.8 131.9h6.5v6.5h-6.5zM184.1 131.9h6.5v6.5h-6.5zM185.4 131.9h6.5v6.5h-6.5zM186.8 131.9h6.5v6.5h-6.5zM188.1 131.9h6.5v6.5h-6.5zM189.5 131.9h6.5v6.5h-6.5zM190.8 131.9h6.5v6.5h-6.5zM192.1 131.9h6.5v6.5h-6.5zM193.5 131.9h6.5v6.5h-6.5zM194.8 131.9h6.5v6.5h-6.5zM196.1 131.9h6.5v6.5h-6.5zM197.5 131.9h6.5v6.5h-6.5zM198.8 132.0h6.5v6.5h-6.5zM200.2 132.0h6.5v6.5h-6.5zM201.5 132.0h6.5v6.5h-6.5zM202.8 132.0h6.5v6.5h-6.5zM204.2 132.0h6.5v6.5h-6.5zM205.5 132.0h6.5v6.5h-6.5zM206.8 132.0h6.5v6.5h-6.5zM208.2 132.0h6.5v6.5h-6.5zM209.5 132.0h6.5v6.5h-6.5zM210.9 132.0h6.5v6.5h-6.5zM212.2 132.0h6.5v6.5h-6.5zM213.5 132.0h6.5v6.5h-6.5zM214.9 132.1h6.5v6.5h-6.5zM216.2 132.1h6.5v6.5h-6.5zM217.5 132.1h6.5v6.5h-6.5zM218.9 132.1h6.5v6.5h-6.5zM220.2 132.1h6.5v6.5h-6.5zM221.6 132.1h6.5v6.5h-6.5zM222.9 132.1h6.5v6.5h-6.5zM224.2 132.1h6.5v6.5h-6.5zM225.6 132.1h6.5v6.5h-6.5zM226.9 132.1h6.5v6.5h-6.5zM228.2 132.1h6.5v6.5h-6.5zM229.6 132.1h6.5v6.5h-6.5zM230.9 132.2h6.5v6.5h-6.5zM232.3 132.2h6.5v6.5h-6.5zM233.6 132.2h6.5v6.5h-6.5zM234.9 132.2h6.5v6.5h-6.5zM236.3 132.2h6.5v6.5h-6.5zM237.6 132.2h6.5v6.5h-6.5zM238.9 132.2h6.5v6.5h-6.5zM240.3 132.2h6.5v6.5h-6.5zM241.6 132.2h6.5v6.5h-6.5zM243.0 132.2h6.5v6.5h-6.5zM244.3 132.2h6.5v6.5h-6.5zM245.6 132.2h6.5v6.5h-6.5zM247.0 132.2h6.5v6.5h-6.5zM248.3 132.2h6.5v6.5h-6.5zM249.6 132.1h6.5v6.5h-6.5zM251.0 132.1h6.5v6.5h-6.5zM252.3 132.0h6.5v6.5h-6.5zM253.7 132.0h6.5v6.5h-6.5zM255.0 131.9h6.5v6.5h-6.5zM256.3 131.8h6.5v6.5h-6.5zM257.7 131.8h6.5v6.5h-6.5zM259.0 131.7h6.5v6.5h-6.5zM260.4 131.7h6.5v6.5h-6.5zM261.7 131.6h6.5v6.5h-6.5zM263.0 131.6h6.5v6.5h-6.5zM264.4 131.5h6.5v6.5h-6.5zM265.7 131.4h6.5v6.5h-6.5zM267.0 131.4h6.5v6.5h-6.5zM268.4 131.3h6.5v6.5h-6.5zM269.7 131.3h6.5v6.5h-6.5zM271.0 131.2h6.5v6.5h-6.5zM272.4 131.2h6.5v6.5h-6.5zM273.7 131.1h6.5v6.5h-6.5zM275.1 131.0h6.5v6.5h-6.5zM276.4 131.0h6.5v6.5h-6.5zM277.7 130.9h6.5v6.5h-6.5zM279.1 130.9h6.5v6.5h-6.5zM280.4 130.8h6.5v6.5h-6.5zM281.8 130.8h6.5v6.5h-6.5z" clip-path="url(#cTL)"/>
<path fill="#1f7a2c" d="M71.0 123.0l3.25 5.98h-6.5zM72.3 123.1l3.25 5.98h-6.5zM73.7 123.2l3.25 5.98h-6.5zM75.0 123.3l3.25 5.98h-6.5zM76.3 123.4l3.25 5.98h-6.5zM77.7 123.5l3.25 5.98h-6.5zM79.0 123.6l3.25 5.98h-6.5zM80.4 123.7l3.25 5.98h-6.5zM81.7 123.7l3.25 5.98h-6.5zM83.0 123.8l3.25 5.98h-6.5zM84.4 123.9l3.25 5.98h-6.5zM85.7 124.0l3.25 5.98h-6.5zM87.0 124.1l3.25 5.98h-6.5zM88.4 124.2l3.25 5.98h-6.5zM89.7 124.3l3.25 5.98h-6.5zM91.1 124.4l3.25 5.98h-6.5zM92.4 124.5l3.25 5.98h-6.5zM93.7 124.6l3.25 5.98h-6.5zM95.1 124.7l3.25 5.98h-6.5zM96.4 124.8l3.25 5.98h-6.5zM97.8 124.9l3.25 5.98h-6.5zM99.1 124.9l3.25 5.98h-6.5zM100.4 125.0l3.25 5.98h-6.5zM101.8 125.2l3.25 5.98h-6.5zM103.1 125.3l3.25 5.98h-6.5zM104.4 125.4l3.25 5.98h-6.5zM105.8 125.5l3.25 5.98h-6.5zM107.1 125.6l3.25 5.98h-6.5zM108.4 125.7l3.25 5.98h-6.5zM109.8 125.8l3.25 5.98h-6.5zM111.1 125.9l3.25 5.98h-6.5zM112.5 126.0l3.25 5.98h-6.5zM113.8 126.1l3.25 5.98h-6.5zM115.1 126.2l3.25 5.98h-6.5zM116.5 126.3l3.25 5.98h-6.5zM117.8 126.4l3.25 5.98h-6.5zM119.2 126.5l3.25 5.98h-6.5zM120.5 126.6l3.25 5.98h-6.5zM121.8 126.7l3.25 5.98h-6.5zM123.2 126.9l3.25 5.98h-6.5zM124.5 127.0l3.25 5.98h-6.5zM125.8 127.1l3.25 5.98h-6.5zM127.2 127.2l3.25 5.98h-6.5zM128.5 127.3l3.25 5.98h-6.5zM129.8 127.4l3.25 5.98h-6.5zM131.2 127.5l3.25 5.98h-6.5zM132.5 127.6l3.25 5.98h-6.5zM133.9 127.7l3.25 5.98h-6.5zM135.2 127.8l3.25 5.98h-6.5zM136.5 127.9l3.25 5.98h-6.5zM137.9 128.0l3.25 5.98h-6.5zM139.2 128.1l3.25 5.98h-6.5zM140.6 128.2l3.25 5.98h-6.5zM141.9 128.3l3.25 5.98h-6.5zM143.2 128.4l3.25 5.98h-6.5zM144.6 128.5l3.25 5.98h-6.5zM145.9 128.6l3.25 5.98h-6.5zM147.2 128.6l3.25 5.98h-6.5zM148.6 128.7l3.25 5.98h-6.5zM149.9 128.7l3.25 5.98h-6.5zM151.2 128.7l3.25 5.98h-6.5zM152.6 128.8l3.25 5.98h-6.5zM153.9 128.8l3.25 5.98h-6.5zM155.3 128.9l3.25 5.98h-6.5zM156.6 128.9l3.25 5.98h-6.5zM157.9 128.9l3.25 5.98h-6.5zM159.3 129.0l3.25 5.98h-6.5zM160.6 129.0l3.25 5.98h-6.5zM161.9 129.0l3.25 5.98h-6.5zM163.3 129.0l3.25 5.98h-6.5zM164.6 129.0l3.25 5.98h-6.5zM166.0 128.9l3.25 5.98h-6.5zM167.3 128.9l3.25 5.98h-6.5zM168.6 128.9l3.25 5.98h-6.5zM170.0 128.9l3.25 5.98h-6.5zM171.3 128.9l3.25 5.98h-6.5zM172.6 128.9l3.25 5.98h-6.5zM174.0 128.8l3.25 5.98h-6.5zM175.3 128.8l3.25 5.98h-6.5zM176.7 128.8l3.25 5.98h-6.5zM178.0 128.8l3.25 5.98h-6.5zM179.3 128.8l3.25 5.98h-6.5zM180.7 128.8l3.25 5.98h-6.5zM182.0 128.7l3.25 5.98h-6.5zM183.3 128.7l3.25 5.98h-6.5zM184.7 128.7l3.25 5.98h-6.5zM186.0 128.7l3.25 5.98h-6.5zM187.4 128.7l3.25 5.98h-6.5zM188.7 128.7l3.25 5.98h-6.5zM190.0 128.6l3.25 5.98h-6.5zM191.4 128.6l3.25 5.98h-6.5zM192.7 128.6l3.25 5.98h-6.5zM194.1 128.6l3.25 5.98h-6.5zM195.4 128.6l3.25 5.98h-6.5zM196.7 128.6l3.25 5.98h-6.5zM198.1 128.5l3.25 5.98h-6.5zM199.4 128.5l3.25 5.98h-6.5zM200.7 128.5l3.25 5.98h-6.5zM202.1 128.5l3.25 5.98h-6.5zM203.4 128.5l3.25 5.98h-6.5zM204.8 128.4l3.25 5.98h-6.5zM206.1 128.4l3.25 5.98h-6.5zM207.4 128.4l3.25 5.98h-6.5zM208.8 128.4l3.25 5.98h-6.5zM210.1 128.3l3.25 5.98h-6.5zM211.4 128.3l3.25 5.98h-6.5zM212.8 128.3l3.25 5.98h-6.5zM214.1 128.3l3.25 5.98h-6.5zM215.4 128.3l3.25 5.98h-6.5zM216.8 128.2l3.25 5.98h-6.5zM218.1 128.2l3.25 5.98h-6.5zM219.5 128.2l3.25 5.98h-6.5zM220.8 128.2l3.25 5.98h-6.5zM222.1 128.1l3.25 5.98h-6.5zM223.5 128.1l3.25 5.98h-6.5zM224.8 128.1l3.25 5.98h-6.5zM226.1 128.1l3.25 5.98h-6.5zM227.5 128.1l3.25 5.98h-6.5zM228.8 128.0l3.25 5.98h-6.5zM230.2 128.0l3.25 5.98h-6.5zM231.5 128.0l3.25 5.98h-6.5zM232.8 128.0l3.25 5.98h-6.5zM234.2 127.9l3.25 5.98h-6.5zM235.5 127.9l3.25 5.98h-6.5zM236.8 127.9l3.25 5.98h-6.5zM238.2 127.9l3.25 5.98h-6.5zM239.5 127.9l3.25 5.98h-6.5zM240.9 127.8l3.25 5.98h-6.5zM242.2 127.8l3.25 5.98h-6.5zM243.5 127.8l3.25 5.98h-6.5zM244.9 127.8l3.25 5.98h-6.5zM246.2 127.7l3.25 5.98h-6.5zM247.5 127.7l3.25 5.98h-6.5zM248.9 127.7l3.25 5.98h-6.5zM250.2 127.7l3.25 5.98h-6.5zM251.6 127.7l3.25 5.98h-6.5zM252.9 127.6l3.25 5.98h-6.5zM254.2 127.6l3.25 5.98h-6.5zM255.6 127.6l3.25 5.98h-6.5zM256.9 127.6l3.25 5.98h-6.5zM258.2 127.5l3.25 5.98h-6.5zM259.6 127.5l3.25 5.98h-6.5zM260.9 127.5l3.25 5.98h-6.5zM262.3 127.4l3.25 5.98h-6.5zM263.6 127.3l3.25 5.98h-6.5zM264.9 127.2l3.25 5.98h-6.5zM266.3 127.1l3.25 5.98h-6.5zM267.6 127.1l3.25 5.98h-6.5zM268.9 127.0l3.25 5.98h-6.5zM270.3 126.9l3.25 5.98h-6.5zM271.6 126.8l3.25 5.98h-6.5zM273.0 126.7l3.25 5.98h-6.5zM274.3 126.7l3.25 5.98h-6.5zM275.6 126.6l3.25 5.98h-6.5zM277.0 126.5l3.25 5.98h-6.5zM278.3 126.4l3.25 5.98h-6.5zM279.6 126.3l3.25 5.98h-6.5zM281.0 126.3l3.25 5.98h-6.5zM282.3 126.2l3.25 5.98h-6.5zM283.7 126.1l3.25 5.98h-6.5zM285.0 126.0l3.25 5.98h-6.5z" clip-path="url(#cTL)"/>
<path fill="#1a5e8a" d="M67.6 346.6h6.8v6.8h-6.8zM68.9 346.9h6.8v6.8h-6.8zM70.3 347.1h6.8v6.8h-6.8zM71.6 347.4h6.8v6.8h-6.8zM73.0 347.7h6.8v6.8h-6.8zM74.3 348.0h6.8v6.8h-6.8zM75.7 348.2h6.8v6.8h-6.8zM77.0 348.5h6.8v6.8h-6.8zM78.3 348.8h6.8v6.8h-6.8zM79.7 349.1h6.8v6.8h-6.8zM81.0 349.3h6.8v6.8h-6.8zM82.4 349.6h6.8v6.8h-6.8zM83.7 350.0h6.8v6.8h-6.8zM85.0 350.5h6.8v6.8h-6.8zM86.4 351.1h6.8v6.8h-6.8zM87.7 351.7h6.8v6.8h-6.8zM89.1 352.3h6.8v6.8h-6.8zM90.4 352.8h6.8v6.8h-6.8zM91.8 353.4h6.8v6.8h-6.8zM93.1 354.0h6.8v6.8h-6.8zM94.4 354.5h6.8v6.8h-6.8zM95.8 355.1h6.8v6.8h-6.8zM97.1 355.7h6.8v6.8h-6.8zM98.5 356.3h6.8v6.8h-6.8zM99.8 356.8h6.8v6.8h-6.8zM101.1 357.4h6.8v6.8h-6.8zM102.5 358.0h6.8v6.8h-6.8zM103.8 358.9h6.8v6.8h-6.8zM105.2 359.7h6.8v6.8h-6.8zM106.5 360.6h6.8v6.8h-6.8zM107.9 361.4h6.8v6.8h-6.8zM109.2 362.2h6.8v6.8h-6.8zM110.5 363.1h6.8v6.8h-6.8zM111.9 363.9h6.8v6.8h-6.8zM113.2 364.8h6.8v6.8h-6.8zM114.6 365.6h6.8v6.8h-6.8zM115.9 366.4h6.8v6.8h-6.8zM117.2 367.3h6.8v6.8h-6.8zM118.6 368.4h6.8v6.8h-6.8zM119.9 369.6h6.8v6.8h-6.8zM121.3 370.7h6.8v6.8h-6.8zM122.6 371.8h6.8v6.8h-6.8zM124.0 373.0h6.8v6.8h-6.8zM125.3 374.1h6.8v6.8h-6.8zM126.6 375.2h6.8v6.8h-6.8zM128.0 376.3h6.8v6.8h-6.8zM129.3 377.8h6.8v6.8h-6.8zM130.7 379.4h6.8v6.8h-6.8zM132.0 381.1h6.8v6.8h-6.8zM133.3 382.7h6.8v6.8h-6.8zM134.7 384.3h6.8v6.8h-6.8zM136.0 385.9h6.8v6.8h-6.8zM137.4 387.5h6.8v6.8h-6.8zM138.7 389.4h6.8v6.8h-6.8zM140.1 391.4h6.8v6.8h-6.8zM141.4 393.4h6.8v6.8h-6.8zM142.7 395.4h6.8v6.8h-6.8zM144.1 397.3h6.8v6.8h-6.8zM145.4 399.5h6.8v6.8h-6.8zM146.8 402.7h6.8v6.8h-6.8zM148.1 405.8h6.8v6.8h-6.8zM149.4 408.9h6.8v6.8h-6.8zM150.8 412.1h6.8v6.8h-6.8zM152.1 416.6h6.8v6.8h-6.8zM153.5 421.2h6.8v6.8h-6.8zM154.8 425.2h6.8v6.8h-6.8zM156.2 429.3h6.8v6.8h-6.8zM157.5 434.0h6.8v6.8h-6.8zM158.8 439.0h6.8v6.8h-6.8zM160.2 446.1h6.8v6.8h-6.8zM161.5 454.3h6.8v6.8h-6.8zM162.9 462.7h6.8v6.8h-6.8zM164.2 469.4h6.8v6.8h-6.8zM165.5 476.9h6.8v6.8h-6.8zM166.9 484.3h6.8v6.8h-6.8zM168.2 488.4h6.8v6.8h-6.8zM169.6 492.5h6.8v6.8h-6.8zM170.9 500.9h6.8v6.8h-6.8zM172.3 509.4h6.8v6.8h-6.8zM173.6 514.1h6.8v6.8h-6.8zM174.9 517.5h6.8v6.8h-6.8zM176.3 520.8h6.8v6.8h-6.8zM177.6 521.8h6.8v6.8h-6.8zM179.0 522.0h6.8v6.8h-6.8zM180.3 522.2h6.8v6.8h-6.8zM181.6 522.4h6.8v6.8h-6.8zM183.0 522.6h6.8v6.8h-6.8zM184.3 522.8h6.8v6.8h-6.8zM185.7 523.0h6.8v6.8h-6.8zM187.0 523.1h6.8v6.8h-6.8zM188.4 523.1h6.8v6.8h-6.8zM189.7 523.1h6.8v6.8h-6.8zM191.0 523.2h6.8v6.8h-6.8zM192.4 523.2h6.8v6.8h-6.8zM193.7 523.2h6.8v6.8h-6.8zM195.1 523.2h6.8v6.8h-6.8zM196.4 523.2h6.8v6.8h-6.8zM197.7 523.2h6.8v6.8h-6.8zM199.1 523.3h6.8v6.8h-6.8zM200.4 523.3h6.8v6.8h-6.8zM201.8 523.3h6.8v6.8h-6.8zM203.1 523.3h6.8v6.8h-6.8zM204.5 523.3h6.8v6.8h-6.8zM205.8 523.3h6.8v6.8h-6.8zM207.1 523.4h6.8v6.8h-6.8zM208.5 523.4h6.8v6.8h-6.8zM209.8 523.4h6.8v6.8h-6.8zM211.2 523.4h6.8v6.8h-6.8zM212.5 523.4h6.8v6.8h-6.8zM213.9 523.4h6.8v6.8h-6.8zM215.2 523.5h6.8v6.8h-6.8zM216.5 523.5h6.8v6.8h-6.8zM217.9 523.5h6.8v6.8h-6.8zM219.2 523.5h6.8v6.8h-6.8zM220.6 523.5h6.8v6.8h-6.8zM221.9 523.5h6.8v6.8h-6.8zM223.2 523.6h6.8v6.8h-6.8zM224.6 523.6h6.8v6.8h-6.8zM225.9 523.6h6.8v6.8h-6.8zM227.3 523.6h6.8v6.8h-6.8zM228.6 523.6h6.8v6.8h-6.8zM230.0 523.5h6.8v6.8h-6.8zM231.3 523.5h6.8v6.8h-6.8zM232.6 523.5h6.8v6.8h-6.8zM234.0 523.5h6.8v6.8h-6.8zM235.3 523.5h6.8v6.8h-6.8zM236.7 523.4h6.8v6.8h-6.8zM238.0 523.4h6.8v6.8h-6.8zM239.3 523.4h6.8v6.8h-6.8zM240.7 523.4h6.8v6.8h-6.8zM242.0 523.3h6.8v6.8h-6.8zM243.4 523.3h6.8v6.8h-6.8zM244.7 523.3h6.8v6.8h-6.8zM246.1 523.3h6.8v6.8h-6.8zM247.4 523.3h6.8v6.8h-6.8zM248.7 523.2h6.8v6.8h-6.8zM250.1 523.2h6.8v6.8h-6.8zM251.4 523.2h6.8v6.8h-6.8zM252.8 523.2h6.8v6.8h-6.8zM254.1 523.1h6.8v6.8h-6.8zM255.4 523.1h6.8v6.8h-6.8zM256.8 523.1h6.8v6.8h-6.8zM258.1 523.0h6.8v6.8h-6.8zM259.5 523.0h6.8v6.8h-6.8zM260.8 523.0h6.8v6.8h-6.8zM262.2 522.9h6.8v6.8h-6.8zM263.5 522.9h6.8v6.8h-6.8zM264.8 522.8h6.8v6.8h-6.8zM266.2 522.8h6.8v6.8h-6.8zM267.5 522.7h6.8v6.8h-6.8zM268.9 522.7h6.8v6.8h-6.8zM270.2 522.6h6.8v6.8h-6.8zM271.5 522.6h6.8v6.8h-6.8zM272.9 522.6h6.8v6.8h-6.8zM274.2 522.6h6.8v6.8h-6.8zM275.6 522.6h6.8v6.8h-6.8zM276.9 522.6h6.8v6.8h-6.8zM278.3 523.5h6.8v6.8h-6.8zM279.6 525.3h6.8v6.8h-6.8zM280.9 528.0h6.8v6.8h-6.8zM282.3 533.3h6.8v6.8h-6.8z" clip-path="url(#cBL)"/>
<path fill="#1a5e8a" d="M71.0 433.1l3.4 6.256h-6.8zM72.3 433.5l3.4 6.256h-6.8zM73.7 433.9l3.4 6.256h-6.8zM75.0 434.3l3.4 6.256h-6.8zM76.4 434.7l3.4 6.256h-6.8zM77.7 435.1l3.4 6.256h-6.8zM79.1 435.5l3.4 6.256h-6.8zM80.4 435.9l3.4 6.256h-6.8zM81.7 436.4l3.4 6.256h-6.8zM83.1 436.8l3.4 6.256h-6.8zM84.4 437.2l3.4 6.256h-6.8zM85.8 437.6l3.4 6.256h-6.8zM87.1 438.0l3.4 6.256h-6.8zM88.4 438.4l3.4 6.256h-6.8zM89.8 438.8l3.4 6.256h-6.8zM91.1 439.2l3.4 6.256h-6.8zM92.5 439.6l3.4 6.256h-6.8zM93.8 440.0l3.4 6.256h-6.8zM95.2 440.3l3.4 6.256h-6.8zM96.5 440.7l3.4 6.256h-6.8zM97.8 441.1l3.4 6.256h-6.8zM99.2 441.5l3.4 6.256h-6.8zM100.5 441.9l3.4 6.256h-6.8zM101.9 442.3l3.4 6.256h-6.8zM103.2 442.7l3.4 6.256h-6.8zM104.5 443.1l3.4 6.256h-6.8zM105.9 443.5l3.4 6.256h-6.8zM107.2 444.1l3.4 6.256h-6.8zM108.6 444.6l3.4 6.256h-6.8zM109.9 445.1l3.4 6.256h-6.8zM111.3 445.7l3.4 6.256h-6.8zM112.6 446.2l3.4 6.256h-6.8zM113.9 446.8l3.4 6.256h-6.8zM115.3 447.3l3.4 6.256h-6.8zM116.6 447.8l3.4 6.256h-6.8zM118.0 448.4l3.4 6.256h-6.8zM119.3 448.9l3.4 6.256h-6.8zM120.6 449.4l3.4 6.256h-6.8zM122.0 450.0l3.4 6.256h-6.8zM123.3 450.5l3.4 6.256h-6.8zM124.7 451.1l3.4 6.256h-6.8zM126.0 451.7l3.4 6.256h-6.8zM127.4 452.3l3.4 6.256h-6.8zM128.7 452.8l3.4 6.256h-6.8zM130.0 453.4l3.4 6.256h-6.8zM131.4 454.0l3.4 6.256h-6.8zM132.7 454.6l3.4 6.256h-6.8zM134.1 455.2l3.4 6.256h-6.8zM135.4 455.8l3.4 6.256h-6.8zM136.7 456.4l3.4 6.256h-6.8zM138.1 457.0l3.4 6.256h-6.8zM139.4 457.6l3.4 6.256h-6.8zM140.8 458.4l3.4 6.256h-6.8zM142.1 459.1l3.4 6.256h-6.8zM143.5 459.9l3.4 6.256h-6.8zM144.8 460.7l3.4 6.256h-6.8zM146.1 461.4l3.4 6.256h-6.8zM147.5 462.2l3.4 6.256h-6.8zM148.8 463.0l3.4 6.256h-6.8zM150.2 463.7l3.4 6.256h-6.8zM151.5 464.8l3.4 6.256h-6.8zM152.8 465.9l3.4 6.256h-6.8zM154.2 466.9l3.4 6.256h-6.8zM155.5 468.0l3.4 6.256h-6.8zM156.9 469.1l3.4 6.256h-6.8zM158.2 470.2l3.4 6.256h-6.8zM159.6 471.3l3.4 6.256h-6.8zM160.9 472.8l3.4 6.256h-6.8zM162.2 474.3l3.4 6.256h-6.8zM163.6 475.9l3.4 6.256h-6.8zM164.9 477.5l3.4 6.256h-6.8zM166.3 479.8l3.4 6.256h-6.8zM167.6 482.4l3.4 6.256h-6.8zM168.9 485.1l3.4 6.256h-6.8zM170.3 488.4l3.4 6.256h-6.8zM171.6 491.9l3.4 6.256h-6.8zM173.0 495.1l3.4 6.256h-6.8zM174.3 498.3l3.4 6.256h-6.8zM175.7 500.1l3.4 6.256h-6.8zM177.0 500.7l3.4 6.256h-6.8zM178.3 501.2l3.4 6.256h-6.8zM179.7 501.7l3.4 6.256h-6.8zM181.0 501.9l3.4 6.256h-6.8zM182.4 501.9l3.4 6.256h-6.8zM183.7 502.0l3.4 6.256h-6.8zM185.0 502.0l3.4 6.256h-6.8zM186.4 502.0l3.4 6.256h-6.8zM187.7 502.1l3.4 6.256h-6.8zM189.1 502.1l3.4 6.256h-6.8zM190.4 502.1l3.4 6.256h-6.8zM191.8 502.2l3.4 6.256h-6.8zM193.1 502.2l3.4 6.256h-6.8zM194.4 502.2l3.4 6.256h-6.8zM195.8 502.3l3.4 6.256h-6.8zM197.1 502.3l3.4 6.256h-6.8zM198.5 502.3l3.4 6.256h-6.8zM199.8 502.4l3.4 6.256h-6.8zM201.1 502.4l3.4 6.256h-6.8zM202.5 502.4l3.4 6.256h-6.8zM203.8 502.5l3.4 6.256h-6.8zM205.2 502.5l3.4 6.256h-6.8zM206.5 502.5l3.4 6.256h-6.8zM207.9 502.6l3.4 6.256h-6.8zM209.2 502.6l3.4 6.256h-6.8zM210.5 502.6l3.4 6.256h-6.8zM211.9 502.7l3.4 6.256h-6.8zM213.2 502.7l3.4 6.256h-6.8zM214.6 502.7l3.4 6.256h-6.8zM215.9 502.8l3.4 6.256h-6.8zM217.3 502.8l3.4 6.256h-6.8zM218.6 502.8l3.4 6.256h-6.8zM219.9 502.9l3.4 6.256h-6.8zM221.3 502.9l3.4 6.256h-6.8zM222.6 502.9l3.4 6.256h-6.8zM224.0 503.0l3.4 6.256h-6.8zM225.3 503.0l3.4 6.256h-6.8zM226.6 503.0l3.4 6.256h-6.8zM228.0 503.1l3.4 6.256h-6.8zM229.3 503.1l3.4 6.256h-6.8zM230.7 503.1l3.4 6.256h-6.8zM232.0 503.2l3.4 6.256h-6.8zM233.4 503.2l3.4 6.256h-6.8zM234.7 503.2l3.4 6.256h-6.8zM236.0 503.3l3.4 6.256h-6.8zM237.4 503.3l3.4 6.256h-6.8zM238.7 503.3l3.4 6.256h-6.8zM240.1 503.4l3.4 6.256h-6.8zM241.4 503.4l3.4 6.256h-6.8zM242.7 503.4l3.4 6.256h-6.8zM244.1 503.5l3.4 6.256h-6.8zM245.4 503.5l3.4 6.256h-6.8zM246.8 503.5l3.4 6.256h-6.8zM248.1 503.6l3.4 6.256h-6.8zM249.5 503.6l3.4 6.256h-6.8zM250.8 503.6l3.4 6.256h-6.8zM252.1 503.7l3.4 6.256h-6.8zM253.5 503.7l3.4 6.256h-6.8zM254.8 503.7l3.4 6.256h-6.8zM256.2 503.8l3.4 6.256h-6.8zM257.5 503.8l3.4 6.256h-6.8zM258.8 503.8l3.4 6.256h-6.8zM260.2 503.9l3.4 6.256h-6.8zM261.5 504.0l3.4 6.256h-6.8zM262.9 504.2l3.4 6.256h-6.8zM264.2 504.3l3.4 6.256h-6.8zM265.6 504.4l3.4 6.256h-6.8zM266.9 504.6l3.4 6.256h-6.8zM268.2 504.7l3.4 6.256h-6.8zM269.6 504.8l3.4 6.256h-6.8zM270.9 505.0l3.4 6.256h-6.8zM272.3 505.1l3.4 6.256h-6.8zM273.6 505.2l3.4 6.256h-6.8zM274.9 505.4l3.4 6.256h-6.8zM276.3 505.5l3.4 6.256h-6.8zM277.6 505.6l3.4 6.256h-6.8zM279.0 505.8l3.4 6.256h-6.8zM280.3 506.4l3.4 6.256h-6.8zM281.7 508.9l3.4 6.256h-6.8zM283.0 511.4l3.4 6.256h-6.8zM284.3 513.8l3.4 6.256h-6.8zM285.7 516.3l3.4 6.256h-6.8z" clip-path="url(#cBL)"/>
<path fill="#ee7b30" d="M67.6 346.6h6.8v6.8h-6.8zM68.9 346.9h6.8v6.8h-6.8zM70.3 347.1h6.8v6.8h-6.8zM71.6 347.4h6.8v6.8h-6.8zM73.0 347.7h6.8v6.8h-6.8zM74.3 348.0h6.8v6.8h-6.8zM75.7 348.2h6.8v6.8h-6.8zM77.0 348.5h6.8v6.8h-6.8zM78.3 348.8h6.8v6.8h-6.8zM79.7 349.1h6.8v6.8h-6.8zM81.0 349.3h6.8v6.8h-6.8zM82.4 349.6h6.8v6.8h-6.8zM83.7 350.0h6.8v6.8h-6.8zM85.0 350.5h6.8v6.8h-6.8zM86.4 351.1h6.8v6.8h-6.8zM87.7 351.7h6.8v6.8h-6.8zM89.1 352.3h6.8v6.8h-6.8zM90.4 352.8h6.8v6.8h-6.8zM91.8 353.4h6.8v6.8h-6.8zM93.1 354.0h6.8v6.8h-6.8zM94.4 354.5h6.8v6.8h-6.8zM95.8 355.1h6.8v6.8h-6.8zM97.1 355.7h6.8v6.8h-6.8zM98.5 356.3h6.8v6.8h-6.8zM99.8 356.8h6.8v6.8h-6.8zM101.1 357.4h6.8v6.8h-6.8zM102.5 358.0h6.8v6.8h-6.8zM103.8 358.9h6.8v6.8h-6.8zM105.2 359.7h6.8v6.8h-6.8zM106.5 360.6h6.8v6.8h-6.8zM107.9 361.4h6.8v6.8h-6.8zM109.2 362.2h6.8v6.8h-6.8zM110.5 363.1h6.8v6.8h-6.8zM111.9 363.9h6.8v6.8h-6.8zM113.2 364.8h6.8v6.8h-6.8zM114.6 365.6h6.8v6.8h-6.8zM115.9 366.4h6.8v6.8h-6.8zM117.2 367.3h6.8v6.8h-6.8zM118.6 368.4h6.8v6.8h-6.8zM119.9 369.6h6.8v6.8h-6.8zM121.3 370.7h6.8v6.8h-6.8zM122.6 371.8h6.8v6.8h-6.8zM124.0 373.0h6.8v6.8h-6.8zM125.3 374.1h6.8v6.8h-6.8zM126.6 375.2h6.8v6.8h-6.8zM128.0 376.3h6.8v6.8h-6.8zM129.3 377.8h6.8v6.8h-6.8zM130.7 379.4h6.8v6.8h-6.8zM132.0 381.1h6.8v6.8h-6.8zM133.3 382.7h6.8v6.8h-6.8zM134.7 384.3h6.8v6.8h-6.8zM136.0 385.9h6.8v6.8h-6.8zM137.4 387.5h6.8v6.8h-6.8zM138.7 389.4h6.8v6.8h-6.8zM140.1 391.4h6.8v6.8h-6.8zM141.4 393.4h6.8v6.8h-6.8zM142.7 395.4h6.8v6.8h-6.8zM144.1 397.3h6.8v6.8h-6.8zM145.4 399.5h6.8v6.8h-6.8zM146.8 402.7h6.8v6.8h-6.8zM148.1 405.8h6.8v6.8h-6.8zM149.4 408.9h6.8v6.8h-6.8zM150.8 412.1h6.8v6.8h-6.8zM152.1 416.6h6.8v6.8h-6.8zM153.5 421.2h6.8v6.8h-6.8zM154.8 425.2h6.8v6.8h-6.8zM156.2 429.3h6.8v6.8h-6.8zM157.5 434.0h6.8v6.8h-6.8zM158.8 439.0h6.8v6.8h-6.8zM160.2 446.1h6.8v6.8h-6.8zM161.5 454.3h6.8v6.8h-6.8zM162.9 462.7h6.8v6.8h-6.8zM164.2 469.4h6.8v6.8h-6.8zM165.5 476.9h6.8v6.8h-6.8zM166.9 484.3h6.8v6.8h-6.8zM168.2 488.4h6.8v6.8h-6.8zM169.6 492.5h6.8v6.8h-6.8zM170.9 504.4h6.8v6.8h-6.8zM172.3 511.5h6.8v6.8h-6.8zM173.6 513.2h6.8v6.8h-6.8zM174.9 514.9h6.8v6.8h-6.8zM176.3 516.7h6.8v6.8h-6.8zM177.6 517.2h6.8v6.8h-6.8zM179.0 517.2h6.8v6.8h-6.8zM180.3 517.3h6.8v6.8h-6.8zM181.6 517.4h6.8v6.8h-6.8zM183.0 517.4h6.8v6.8h-6.8zM184.3 517.5h6.8v6.8h-6.8zM185.7 517.6h6.8v6.8h-6.8zM187.0 517.6h6.8v6.8h-6.8zM188.4 517.7h6.8v6.8h-6.8zM189.7 517.8h6.8v6.8h-6.8zM191.0 517.8h6.8v6.8h-6.8zM192.4 517.9h6.8v6.8h-6.8zM193.7 518.0h6.8v6.8h-6.8zM195.1 518.0h6.8v6.8h-6.8zM196.4 518.1h6.8v6.8h-6.8zM197.7 518.1h6.8v6.8h-6.8zM199.1 518.1h6.8v6.8h-6.8zM200.4 518.1h6.8v6.8h-6.8zM201.8 518.1h6.8v6.8h-6.8zM203.1 518.1h6.8v6.8h-6.8zM204.5 518.1h6.8v6.8h-6.8zM205.8 518.1h6.8v6.8h-6.8zM207.1 518.1h6.8v6.8h-6.8zM208.5 518.1h6.8v6.8h-6.8zM209.8 518.1h6.8v6.8h-6.8zM211.2 518.1h6.8v6.8h-6.8zM212.5 518.1h6.8v6.8h-6.8zM213.9 518.1h6.8v6.8h-6.8zM215.2 518.1h6.8v6.8h-6.8zM216.5 518.1h6.8v6.8h-6.8zM217.9 518.1h6.8v6.8h-6.8zM219.2 518.1h6.8v6.8h-6.8zM220.6 518.1h6.8v6.8h-6.8zM221.9 518.1h6.8v6.8h-6.8zM223.2 518.1h6.8v6.8h-6.8zM224.6 518.1h6.8v6.8h-6.8zM225.9 518.1h6.8v6.8h-6.8zM227.3 518.0h6.8v6.8h-6.8zM228.6 517.9h6.8v6.8h-6.8zM230.0 517.8h6.8v6.8h-6.8zM231.3 517.6h6.8v6.8h-6.8zM232.6 517.5h6.8v6.8h-6.8zM234.0 517.4h6.8v6.8h-6.8zM235.3 517.2h6.8v6.8h-6.8zM236.7 517.1h6.8v6.8h-6.8zM238.0 517.0h6.8v6.8h-6.8zM239.3 516.8h6.8v6.8h-6.8zM240.7 516.7h6.8v6.8h-6.8zM242.0 516.5h6.8v6.8h-6.8zM243.4 516.4h6.8v6.8h-6.8zM244.7 516.2h6.8v6.8h-6.8zM246.1 516.0h6.8v6.8h-6.8zM247.4 515.8h6.8v6.8h-6.8zM248.7 515.6h6.8v6.8h-6.8zM250.1 515.5h6.8v6.8h-6.8zM251.4 515.3h6.8v6.8h-6.8zM252.8 515.1h6.8v6.8h-6.8zM254.1 514.9h6.8v6.8h-6.8zM255.4 514.8h6.8v6.8h-6.8zM256.8 514.6h6.8v6.8h-6.8zM258.1 514.6h6.8v6.8h-6.8zM259.5 514.6h6.8v6.8h-6.8zM260.8 514.6h6.8v6.8h-6.8zM262.2 514.6h6.8v6.8h-6.8zM263.5 514.6h6.8v6.8h-6.8zM264.8 514.6h6.8v6.8h-6.8zM266.2 514.6h6.8v6.8h-6.8zM267.5 514.6h6.8v6.8h-6.8zM268.9 514.7h6.8v6.8h-6.8zM270.2 515.0h6.8v6.8h-6.8zM271.5 515.3h6.8v6.8h-6.8zM276.1 514.6h6.8v6.8h-6.8zM277.1 518.6h6.8v6.8h-6.8zM275.1 529.6h6.8v6.8h-6.8zM277.6 537.6h6.8v6.8h-6.8zM280.1 553.6h6.8v6.8h-6.8z" clip-path="url(#cBL)"/>
<path fill="#ee7b30" d="M71.0 433.1l3.4 6.256h-6.8zM72.3 433.5l3.4 6.256h-6.8zM73.7 433.9l3.4 6.256h-6.8zM75.0 434.3l3.4 6.256h-6.8zM76.4 434.7l3.4 6.256h-6.8zM77.7 435.1l3.4 6.256h-6.8zM79.1 435.5l3.4 6.256h-6.8zM80.4 435.9l3.4 6.256h-6.8zM81.7 436.4l3.4 6.256h-6.8zM83.1 436.8l3.4 6.256h-6.8zM84.4 437.2l3.4 6.256h-6.8zM85.8 437.6l3.4 6.256h-6.8zM87.1 438.0l3.4 6.256h-6.8zM88.4 438.4l3.4 6.256h-6.8zM89.8 438.8l3.4 6.256h-6.8zM91.1 439.2l3.4 6.256h-6.8zM92.5 439.6l3.4 6.256h-6.8zM93.8 440.0l3.4 6.256h-6.8zM95.2 440.3l3.4 6.256h-6.8zM96.5 440.7l3.4 6.256h-6.8zM97.8 441.1l3.4 6.256h-6.8zM99.2 441.5l3.4 6.256h-6.8zM100.5 441.9l3.4 6.256h-6.8zM101.9 442.3l3.4 6.256h-6.8zM103.2 442.7l3.4 6.256h-6.8zM104.5 443.1l3.4 6.256h-6.8zM105.9 443.5l3.4 6.256h-6.8zM107.2 444.1l3.4 6.256h-6.8zM108.6 444.6l3.4 6.256h-6.8zM109.9 445.1l3.4 6.256h-6.8zM111.3 445.7l3.4 6.256h-6.8zM112.6 446.2l3.4 6.256h-6.8zM113.9 446.8l3.4 6.256h-6.8zM115.3 447.3l3.4 6.256h-6.8zM116.6 447.8l3.4 6.256h-6.8zM118.0 448.4l3.4 6.256h-6.8zM119.3 448.9l3.4 6.256h-6.8zM120.6 449.4l3.4 6.256h-6.8zM122.0 450.0l3.4 6.256h-6.8zM123.3 450.5l3.4 6.256h-6.8zM124.7 451.1l3.4 6.256h-6.8zM126.0 451.7l3.4 6.256h-6.8zM127.4 452.3l3.4 6.256h-6.8zM128.7 452.8l3.4 6.256h-6.8zM130.0 453.4l3.4 6.256h-6.8zM131.4 454.0l3.4 6.256h-6.8zM132.7 454.6l3.4 6.256h-6.8zM134.1 455.2l3.4 6.256h-6.8zM135.4 455.8l3.4 6.256h-6.8zM136.7 456.4l3.4 6.256h-6.8zM138.1 457.0l3.4 6.256h-6.8zM139.4 457.6l3.4 6.256h-6.8zM140.8 458.4l3.4 6.256h-6.8zM142.1 459.1l3.4 6.256h-6.8zM143.5 459.9l3.4 6.256h-6.8zM144.8 460.7l3.4 6.256h-6.8zM146.1 461.4l3.4 6.256h-6.8zM147.5 462.2l3.4 6.256h-6.8zM148.8 463.0l3.4 6.256h-6.8zM150.2 463.7l3.4 6.256h-6.8zM151.5 464.8l3.4 6.256h-6.8zM152.8 465.9l3.4 6.256h-6.8zM154.2 466.9l3.4 6.256h-6.8zM155.5 468.0l3.4 6.256h-6.8zM156.9 469.1l3.4 6.256h-6.8zM158.2 470.2l3.4 6.256h-6.8zM159.6 471.3l3.4 6.256h-6.8zM160.9 472.8l3.4 6.256h-6.8zM162.2 474.3l3.4 6.256h-6.8zM163.6 475.9l3.4 6.256h-6.8zM164.9 477.5l3.4 6.256h-6.8zM166.3 479.8l3.4 6.256h-6.8zM167.6 482.4l3.4 6.256h-6.8zM168.9 485.1l3.4 6.256h-6.8zM170.3 488.4l3.4 6.256h-6.8zM171.6 491.9l3.4 6.256h-6.8zM173.0 495.1l3.4 6.256h-6.8zM174.3 498.3l3.4 6.256h-6.8zM175.7 500.3l3.4 6.256h-6.8zM177.0 501.1l3.4 6.256h-6.8zM178.3 501.9l3.4 6.256h-6.8zM179.7 502.7l3.4 6.256h-6.8zM181.0 502.9l3.4 6.256h-6.8zM182.4 502.9l3.4 6.256h-6.8zM183.7 502.9l3.4 6.256h-6.8zM185.0 503.0l3.4 6.256h-6.8zM186.4 503.0l3.4 6.256h-6.8zM187.7 503.0l3.4 6.256h-6.8zM189.1 503.0l3.4 6.256h-6.8zM190.4 503.0l3.4 6.256h-6.8zM191.8 503.1l3.4 6.256h-6.8zM193.1 503.1l3.4 6.256h-6.8zM194.4 503.1l3.4 6.256h-6.8zM195.8 503.1l3.4 6.256h-6.8zM197.1 503.2l3.4 6.256h-6.8zM198.5 503.2l3.4 6.256h-6.8zM199.8 503.2l3.4 6.256h-6.8zM201.1 503.2l3.4 6.256h-6.8zM202.5 503.2l3.4 6.256h-6.8zM203.8 503.3l3.4 6.256h-6.8zM205.2 503.3l3.4 6.256h-6.8zM206.5 503.3l3.4 6.256h-6.8zM207.9 503.3l3.4 6.256h-6.8zM209.2 503.4l3.4 6.256h-6.8zM210.5 503.4l3.4 6.256h-6.8zM211.9 503.3l3.4 6.256h-6.8zM213.2 503.2l3.4 6.256h-6.8zM214.6 503.2l3.4 6.256h-6.8zM215.9 503.1l3.4 6.256h-6.8zM217.3 503.1l3.4 6.256h-6.8zM218.6 503.0l3.4 6.256h-6.8zM219.9 503.0l3.4 6.256h-6.8zM221.3 502.9l3.4 6.256h-6.8zM222.6 502.9l3.4 6.256h-6.8zM224.0 502.8l3.4 6.256h-6.8zM225.3 502.8l3.4 6.256h-6.8zM226.6 502.7l3.4 6.256h-6.8zM228.0 502.7l3.4 6.256h-6.8zM229.3 502.6l3.4 6.256h-6.8zM230.7 502.5l3.4 6.256h-6.8zM232.0 502.5l3.4 6.256h-6.8zM233.4 502.4l3.4 6.256h-6.8zM234.7 502.4l3.4 6.256h-6.8zM236.0 502.3l3.4 6.256h-6.8zM237.4 502.1l3.4 6.256h-6.8zM238.7 502.0l3.4 6.256h-6.8zM240.1 501.9l3.4 6.256h-6.8zM241.4 501.7l3.4 6.256h-6.8zM242.7 501.6l3.4 6.256h-6.8zM244.1 501.5l3.4 6.256h-6.8zM245.4 501.3l3.4 6.256h-6.8zM246.8 501.2l3.4 6.256h-6.8zM248.1 501.1l3.4 6.256h-6.8zM249.5 500.9l3.4 6.256h-6.8zM250.8 500.9l3.4 6.256h-6.8zM252.1 500.9l3.4 6.256h-6.8zM253.5 500.9l3.4 6.256h-6.8zM254.8 500.9l3.4 6.256h-6.8zM256.2 500.9l3.4 6.256h-6.8zM257.5 500.9l3.4 6.256h-6.8zM258.8 500.9l3.4 6.256h-6.8zM260.2 500.9l3.4 6.256h-6.8zM261.5 500.9l3.4 6.256h-6.8zM262.9 500.9l3.4 6.256h-6.8zM264.2 500.9l3.4 6.256h-6.8zM265.6 500.9l3.4 6.256h-6.8zM266.9 500.9l3.4 6.256h-6.8zM268.2 500.9l3.4 6.256h-6.8zM269.6 500.9l3.4 6.256h-6.8zM270.9 501.0l3.4 6.256h-6.8zM272.3 501.2l3.4 6.256h-6.8zM273.6 501.5l3.4 6.256h-6.8zM274.9 501.7l3.4 6.256h-6.8zM276.3 503.2l3.4 6.256h-6.8zM277.6 509.2l3.4 6.256h-6.8zM279.0 512.8l3.4 6.256h-6.8zM280.3 515.5l3.4 6.256h-6.8zM281.7 518.2l3.4 6.256h-6.8zM283.0 520.9l3.4 6.256h-6.8zM284.3 524.9l3.4 6.256h-6.8zM285.7 528.9l3.4 6.256h-6.8z" clip-path="url(#cBL)"/>
<path fill="#1f7a2c" d="M67.6 346.6h6.8v6.8h-6.8zM68.9 346.9h6.8v6.8h-6.8zM70.3 347.1h6.8v6.8h-6.8zM71.6 347.4h6.8v6.8h-6.8zM73.0 347.7h6.8v6.8h-6.8zM74.3 348.0h6.8v6.8h-6.8zM75.7 348.2h6.8v6.8h-6.8zM77.0 348.5h6.8v6.8h-6.8zM78.3 348.8h6.8v6.8h-6.8zM79.7 349.1h6.8v6.8h-6.8zM81.0 349.3h6.8v6.8h-6.8zM82.4 349.6h6.8v6.8h-6.8zM83.7 350.0h6.8v6.8h-6.8zM85.0 350.5h6.8v6.8h-6.8zM86.4 351.1h6.8v6.8h-6.8zM87.7 351.7h6.8v6.8h-6.8zM89.1 352.3h6.8v6.8h-6.8zM90.4 352.8h6.8v6.8h-6.8zM91.8 353.4h6.8v6.8h-6.8zM93.1 354.0h6.8v6.8h-6.8zM94.4 354.5h6.8v6.8h-6.8zM95.8 355.1h6.8v6.8h-6.8zM97.1 355.7h6.8v6.8h-6.8zM98.5 356.3h6.8v6.8h-6.8zM99.8 356.8h6.8v6.8h-6.8zM101.1 357.4h6.8v6.8h-6.8zM102.5 358.0h6.8v6.8h-6.8zM103.8 358.9h6.8v6.8h-6.8zM105.2 359.7h6.8v6.8h-6.8zM106.5 360.6h6.8v6.8h-6.8zM107.9 361.4h6.8v6.8h-6.8zM109.2 362.2h6.8v6.8h-6.8zM110.5 363.1h6.8v6.8h-6.8zM111.9 363.9h6.8v6.8h-6.8zM113.2 364.8h6.8v6.8h-6.8zM114.6 365.6h6.8v6.8h-6.8zM115.9 366.4h6.8v6.8h-6.8zM117.2 367.3h6.8v6.8h-6.8zM118.6 368.4h6.8v6.8h-6.8zM119.9 369.6h6.8v6.8h-6.8zM121.3 370.7h6.8v6.8h-6.8zM122.6 371.8h6.8v6.8h-6.8zM124.0 373.0h6.8v6.8h-6.8zM125.3 374.1h6.8v6.8h-6.8zM126.6 375.2h6.8v6.8h-6.8zM128.0 376.3h6.8v6.8h-6.8zM129.3 377.8h6.8v6.8h-6.8zM130.7 379.4h6.8v6.8h-6.8zM132.0 381.1h6.8v6.8h-6.8zM133.3 382.7h6.8v6.8h-6.8zM134.7 384.3h6.8v6.8h-6.8zM136.0 385.9h6.8v6.8h-6.8zM137.4 387.5h6.8v6.8h-6.8zM138.7 389.4h6.8v6.8h-6.8zM140.1 391.4h6.8v6.8h-6.8zM141.4 393.4h6.8v6.8h-6.8zM142.7 395.4h6.8v6.8h-6.8zM144.1 397.3h6.8v6.8h-6.8zM145.4 399.5h6.8v6.8h-6.8zM146.8 402.7h6.8v6.8h-6.8zM148.1 405.8h6.8v6.8h-6.8zM149.4 408.9h6.8v6.8h-6.8zM150.8 412.1h6.8v6.8h-6.8zM152.1 416.6h6.8v6.8h-6.8zM153.5 421.2h6.8v6.8h-6.8zM154.8 425.2h6.8v6.8h-6.8zM156.2 429.3h6.8v6.8h-6.8zM157.5 434.0h6.8v6.8h-6.8zM158.8 439.0h6.8v6.8h-6.8zM160.2 446.1h6.8v6.8h-6.8zM161.5 454.3h6.8v6.8h-6.8zM162.9 462.7h6.8v6.8h-6.8zM164.2 469.4h6.8v6.8h-6.8zM165.5 476.9h6.8v6.8h-6.8zM166.9 484.3h6.8v6.8h-6.8zM168.2 488.4h6.8v6.8h-6.8zM169.6 492.5h6.8v6.8h-6.8zM170.9 503.1h6.8v6.8h-6.8zM172.3 509.3h6.8v6.8h-6.8zM173.6 510.6h6.8v6.8h-6.8zM174.9 511.9h6.8v6.8h-6.8zM176.3 513.3h6.8v6.8h-6.8zM177.6 513.7h6.8v6.8h-6.8zM179.0 513.7h6.8v6.8h-6.8zM180.3 513.8h6.8v6.8h-6.8zM181.6 513.9h6.8v6.8h-6.8zM183.0 513.9h6.8v6.8h-6.8zM184.3 514.0h6.8v6.8h-6.8zM185.7 514.1h6.8v6.8h-6.8zM187.0 514.1h6.8v6.8h-6.8zM188.4 514.2h6.8v6.8h-6.8zM189.7 514.3h6.8v6.8h-6.8zM191.0 514.3h6.8v6.8h-6.8zM192.4 514.4h6.8v6.8h-6.8zM193.7 514.5h6.8v6.8h-6.8zM195.1 514.5h6.8v6.8h-6.8zM196.4 514.6h6.8v6.8h-6.8zM197.7 514.6h6.8v6.8h-6.8zM199.1 514.6h6.8v6.8h-6.8zM200.4 514.7h6.8v6.8h-6.8zM201.8 514.7h6.8v6.8h-6.8zM203.1 514.7h6.8v6.8h-6.8zM204.5 514.7h6.8v6.8h-6.8zM205.8 514.8h6.8v6.8h-6.8zM207.1 514.8h6.8v6.8h-6.8zM208.5 514.8h6.8v6.8h-6.8zM209.8 514.8h6.8v6.8h-6.8zM211.2 514.8h6.8v6.8h-6.8zM212.5 514.9h6.8v6.8h-6.8zM213.9 514.9h6.8v6.8h-6.8zM215.2 514.9h6.8v6.8h-6.8zM216.5 514.9h6.8v6.8h-6.8zM217.9 515.0h6.8v6.8h-6.8zM219.2 515.0h6.8v6.8h-6.8zM220.6 515.0h6.8v6.8h-6.8zM221.9 515.0h6.8v6.8h-6.8zM223.2 515.0h6.8v6.8h-6.8zM224.6 515.1h6.8v6.8h-6.8zM225.9 515.1h6.8v6.8h-6.8zM227.3 515.2h6.8v6.8h-6.8zM228.6 515.4h6.8v6.8h-6.8zM230.0 515.5h6.8v6.8h-6.8zM231.3 515.7h6.8v6.8h-6.8zM232.6 515.9h6.8v6.8h-6.8zM234.0 516.0h6.8v6.8h-6.8zM235.3 516.2h6.8v6.8h-6.8zM236.7 516.4h6.8v6.8h-6.8zM238.0 516.5h6.8v6.8h-6.8zM239.3 516.7h6.8v6.8h-6.8zM240.7 516.9h6.8v6.8h-6.8zM242.0 517.0h6.8v6.8h-6.8zM243.4 517.2h6.8v6.8h-6.8zM244.7 517.4h6.8v6.8h-6.8zM246.1 517.5h6.8v6.8h-6.8zM247.4 517.7h6.8v6.8h-6.8zM248.7 517.9h6.8v6.8h-6.8zM250.1 518.1h6.8v6.8h-6.8zM251.4 518.3h6.8v6.8h-6.8zM252.8 518.5h6.8v6.8h-6.8zM254.1 518.7h6.8v6.8h-6.8zM255.4 518.9h6.8v6.8h-6.8zM256.8 519.1h6.8v6.8h-6.8zM258.1 519.3h6.8v6.8h-6.8zM259.5 519.5h6.8v6.8h-6.8zM260.8 519.7h6.8v6.8h-6.8zM262.2 519.9h6.8v6.8h-6.8zM263.5 520.1h6.8v6.8h-6.8zM264.8 520.3h6.8v6.8h-6.8zM266.2 520.5h6.8v6.8h-6.8zM267.5 520.6h6.8v6.8h-6.8zM268.9 520.7h6.8v6.8h-6.8zM270.2 520.7h6.8v6.8h-6.8zM271.5 520.7h6.8v6.8h-6.8zM272.9 520.8h6.8v6.8h-6.8zM274.2 520.8h6.8v6.8h-6.8zM275.6 520.8h6.8v6.8h-6.8zM276.9 520.9h6.8v6.8h-6.8zM278.3 520.9h6.8v6.8h-6.8zM279.6 521.0h6.8v6.8h-6.8zM280.9 521.0h6.8v6.8h-6.8zM282.3 521.0h6.8v6.8h-6.8z" clip-path="url(#cBL)"/>
<path fill="#1f7a2c" d="M71.0 433.1l3.4 6.256h-6.8zM72.3 433.5l3.4 6.256h-6.8zM73.7 433.9l3.4 6.256h-6.8zM75.0 434.3l3.4 6.256h-6.8zM76.4 434.7l3.4 6.256h-6.8zM77.7 435.1l3.4 6.256h-6.8zM79.1 435.5l3.4 6.256h-6.8zM80.4 435.9l3.4 6.256h-6.8zM81.7 436.4l3.4 6.256h-6.8zM83.1 436.8l3.4 6.256h-6.8zM84.4 437.2l3.4 6.256h-6.8zM85.8 437.6l3.4 6.256h-6.8zM87.1 438.0l3.4 6.256h-6.8zM88.4 438.4l3.4 6.256h-6.8zM89.8 438.8l3.4 6.256h-6.8zM91.1 439.2l3.4 6.256h-6.8zM92.5 439.6l3.4 6.256h-6.8zM93.8 440.0l3.4 6.256h-6.8zM95.2 440.3l3.4 6.256h-6.8zM96.5 440.7l3.4 6.256h-6.8zM97.8 441.1l3.4 6.256h-6.8zM99.2 441.5l3.4 6.256h-6.8zM100.5 441.9l3.4 6.256h-6.8zM101.9 442.3l3.4 6.256h-6.8zM103.2 442.7l3.4 6.256h-6.8zM104.5 443.1l3.4 6.256h-6.8zM105.9 443.5l3.4 6.256h-6.8zM107.2 444.1l3.4 6.256h-6.8zM108.6 444.6l3.4 6.256h-6.8zM109.9 445.1l3.4 6.256h-6.8zM111.3 445.7l3.4 6.256h-6.8zM112.6 446.2l3.4 6.256h-6.8zM113.9 446.8l3.4 6.256h-6.8zM115.3 447.3l3.4 6.256h-6.8zM116.6 447.8l3.4 6.256h-6.8zM118.0 448.4l3.4 6.256h-6.8zM119.3 448.9l3.4 6.256h-6.8zM120.6 449.4l3.4 6.256h-6.8zM122.0 450.0l3.4 6.256h-6.8zM123.3 450.5l3.4 6.256h-6.8zM124.7 451.1l3.4 6.256h-6.8zM126.0 451.7l3.4 6.256h-6.8zM127.4 452.3l3.4 6.256h-6.8zM128.7 452.8l3.4 6.256h-6.8zM130.0 453.4l3.4 6.256h-6.8zM131.4 454.0l3.4 6.256h-6.8zM132.7 454.6l3.4 6.256h-6.8zM134.1 455.2l3.4 6.256h-6.8zM135.4 455.8l3.4 6.256h-6.8zM136.7 456.4l3.4 6.256h-6.8zM138.1 457.0l3.4 6.256h-6.8zM139.4 457.6l3.4 6.256h-6.8zM140.8 458.4l3.4 6.256h-6.8zM142.1 459.1l3.4 6.256h-6.8zM143.5 459.9l3.4 6.256h-6.8zM144.8 460.7l3.4 6.256h-6.8zM146.1 461.4l3.4 6.256h-6.8zM147.5 462.2l3.4 6.256h-6.8zM148.8 463.0l3.4 6.256h-6.8zM150.2 463.7l3.4 6.256h-6.8zM151.5 464.8l3.4 6.256h-6.8zM152.8 465.9l3.4 6.256h-6.8zM154.2 466.9l3.4 6.256h-6.8zM155.5 468.0l3.4 6.256h-6.8zM156.9 469.1l3.4 6.256h-6.8zM158.2 470.2l3.4 6.256h-6.8zM159.6 471.3l3.4 6.256h-6.8zM160.9 472.8l3.4 6.256h-6.8zM162.2 474.3l3.4 6.256h-6.8zM163.6 475.9l3.4 6.256h-6.8zM164.9 477.5l3.4 6.256h-6.8zM166.3 479.8l3.4 6.256h-6.8zM167.6 482.4l3.4 6.256h-6.8zM168.9 485.1l3.4 6.256h-6.8zM170.3 488.4l3.4 6.256h-6.8zM171.6 491.9l3.4 6.256h-6.8zM173.0 494.8l3.4 6.256h-6.8zM174.3 497.5l3.4 6.256h-6.8zM175.7 499.1l3.4 6.256h-6.8zM177.0 499.5l3.4 6.256h-6.8zM178.3 499.9l3.4 6.256h-6.8zM179.7 500.3l3.4 6.256h-6.8zM181.0 500.4l3.4 6.256h-6.8zM182.4 500.5l3.4 6.256h-6.8zM183.7 500.6l3.4 6.256h-6.8zM185.0 500.6l3.4 6.256h-6.8zM186.4 500.7l3.4 6.256h-6.8zM187.7 500.8l3.4 6.256h-6.8zM189.1 500.8l3.4 6.256h-6.8zM190.4 500.9l3.4 6.256h-6.8zM191.8 501.0l3.4 6.256h-6.8zM193.1 501.0l3.4 6.256h-6.8zM194.4 501.1l3.4 6.256h-6.8zM195.8 501.2l3.4 6.256h-6.8zM197.1 501.2l3.4 6.256h-6.8zM198.5 501.3l3.4 6.256h-6.8zM199.8 501.4l3.4 6.256h-6.8zM201.1 501.4l3.4 6.256h-6.8zM202.5 501.4l3.4 6.256h-6.8zM203.8 501.4l3.4 6.256h-6.8zM205.2 501.5l3.4 6.256h-6.8zM206.5 501.5l3.4 6.256h-6.8zM207.9 501.5l3.4 6.256h-6.8zM209.2 501.5l3.4 6.256h-6.8zM210.5 501.5l3.4 6.256h-6.8zM211.9 501.6l3.4 6.256h-6.8zM213.2 501.6l3.4 6.256h-6.8zM214.6 501.6l3.4 6.256h-6.8zM215.9 501.6l3.4 6.256h-6.8zM217.3 501.7l3.4 6.256h-6.8zM218.6 501.7l3.4 6.256h-6.8zM219.9 501.7l3.4 6.256h-6.8zM221.3 501.7l3.4 6.256h-6.8zM222.6 501.7l3.4 6.256h-6.8zM224.0 501.8l3.4 6.256h-6.8zM225.3 501.8l3.4 6.256h-6.8zM226.6 501.8l3.4 6.256h-6.8zM228.0 501.8l3.4 6.256h-6.8zM229.3 501.9l3.4 6.256h-6.8zM230.7 501.9l3.4 6.256h-6.8zM232.0 502.1l3.4 6.256h-6.8zM233.4 502.2l3.4 6.256h-6.8zM234.7 502.3l3.4 6.256h-6.8zM236.0 502.5l3.4 6.256h-6.8zM237.4 502.6l3.4 6.256h-6.8zM238.7 502.7l3.4 6.256h-6.8zM240.1 502.9l3.4 6.256h-6.8zM241.4 503.0l3.4 6.256h-6.8zM242.7 503.1l3.4 6.256h-6.8zM244.1 503.3l3.4 6.256h-6.8zM245.4 503.4l3.4 6.256h-6.8zM246.8 503.5l3.4 6.256h-6.8zM248.1 503.7l3.4 6.256h-6.8zM249.5 503.8l3.4 6.256h-6.8zM250.8 504.0l3.4 6.256h-6.8zM252.1 504.1l3.4 6.256h-6.8zM253.5 504.3l3.4 6.256h-6.8zM254.8 504.5l3.4 6.256h-6.8zM256.2 504.6l3.4 6.256h-6.8zM257.5 504.8l3.4 6.256h-6.8zM258.8 505.0l3.4 6.256h-6.8zM260.2 505.1l3.4 6.256h-6.8zM261.5 505.3l3.4 6.256h-6.8zM262.9 505.5l3.4 6.256h-6.8zM264.2 505.6l3.4 6.256h-6.8zM265.6 505.8l3.4 6.256h-6.8zM266.9 506.0l3.4 6.256h-6.8zM268.2 506.2l3.4 6.256h-6.8zM269.6 506.3l3.4 6.256h-6.8zM270.9 506.4l3.4 6.256h-6.8zM272.3 506.5l3.4 6.256h-6.8zM273.6 506.6l3.4 6.256h-6.8zM274.9 506.6l3.4 6.256h-6.8zM276.3 506.7l3.4 6.256h-6.8zM277.6 506.8l3.4 6.256h-6.8zM279.0 506.9l3.4 6.256h-6.8zM280.3 506.9l3.4 6.256h-6.8zM281.7 507.0l3.4 6.256h-6.8zM283.0 507.1l3.4 6.256h-6.8zM284.3 507.2l3.4 6.256h-6.8zM285.7 507.2l3.4 6.256h-6.8z" clip-path="url(#cBL)"/>
<path fill="#1f7a2c" d="M286.2 497.4l3.5 6.44h-7z" clip-path="url(#cBL)"/>
<path fill="#1a5e8a" d="M633.5 89.5h7v7h-7zM633.4 90.7h7v7h-7zM633.3 91.9h7v7h-7zM633.2 93.1h7v7h-7zM633.2 94.3h7v7h-7zM633.1 95.5h7v7h-7zM633.0 96.7h7v7h-7zM633.2 97.9h7v7h-7zM633.3 99.1h7v7h-7zM633.5 100.3h7v7h-7zM633.6 101.4h7v7h-7zM633.8 102.6h7v7h-7zM633.9 103.8h7v7h-7zM634.2 105.0h7v7h-7zM634.8 106.0h7v7h-7zM635.3 107.1h7v7h-7zM635.8 108.2h7v7h-7zM636.4 109.3h7v7h-7zM636.9 110.3h7v7h-7zM637.7 111.2h7v7h-7zM638.6 112.1h7v7h-7zM639.4 112.9h7v7h-7zM640.3 113.8h7v7h-7zM641.2 114.5h7v7h-7zM642.3 114.6h7v7h-7zM643.5 114.8h7v7h-7zM644.7 114.9h7v7h-7zM645.8 114.7h7v7h-7zM646.7 113.9h7v7h-7zM647.6 113.1h7v7h-7zM648.5 112.3h7v7h-7zM649.4 111.6h7v7h-7zM650.2 110.6h7v7h-7zM650.9 109.7h7v7h-7zM651.7 108.8h7v7h-7zM652.4 107.8h7v7h-7zM653.2 106.9h7v7h-7zM654.1 106.1h7v7h-7zM655.0 105.4h7v7h-7zM656.0 104.6h7v7h-7zM656.9 103.9h7v7h-7zM658.0 103.4h7v7h-7zM659.2 103.2h7v7h-7zM660.4 103.0h7v7h-7zM661.6 102.8h7v7h-7zM662.7 102.6h7v7h-7zM663.9 102.4h7v7h-7zM665.1 102.2h7v7h-7zM666.3 102.0h7v7h-7zM667.5 102.0h7v7h-7zM668.7 101.9h7v7h-7zM669.9 101.8h7v7h-7zM671.1 101.8h7v7h-7zM672.3 101.7h7v7h-7zM673.5 101.7h7v7h-7zM674.7 101.6h7v7h-7zM675.9 101.5h7v7h-7zM677.1 101.5h7v7h-7zM678.3 101.5h7v7h-7zM679.5 101.5h7v7h-7zM680.7 101.5h7v7h-7zM681.9 101.5h7v7h-7zM683.1 101.5h7v7h-7zM684.3 101.5h7v7h-7zM685.5 101.5h7v7h-7zM686.7 101.6h7v7h-7zM687.9 101.6h7v7h-7zM689.1 101.7h7v7h-7zM690.3 101.8h7v7h-7zM691.5 101.9h7v7h-7zM692.7 101.9h7v7h-7zM642.5 108.5h7v7h-7zM645.0 106.5h7v7h-7zM647.5 104.5h7v7h-7zM650.0 102.5h7v7h-7zM652.5 100.5h7v7h-7zM655.5 99.5h7v7h-7zM700.5 103.5h7v7h-7zM707.5 105.0h7v7h-7zM714.5 107.0h7v7h-7zM717.5 108.0h7v7h-7zM720.5 108.5h7v7h-7zM723.5 109.0h7v7h-7zM730.5 109.5h7v7h-7zM753.5 120.1h7v7h-7zM758.5 120.1h7v7h-7zM765.0 120.1h7v7h-7zM775.9 120.1h7v7h-7zM787.3 120.1h7v7h-7zM802.0 117.9h7v7h-7zM825.0 115.5h7v7h-7zM850.8 113.2h7v7h-7zM878.2 111.8h7v7h-7z" clip-path="url(#cTR)"/>
<path fill="#1a5e8a" d="M637.0 89.3l3.5 6.44h-7zM636.9 90.5l3.5 6.44h-7zM636.8 91.7l3.5 6.44h-7zM636.8 92.9l3.5 6.44h-7zM636.7 94.1l3.5 6.44h-7zM636.6 95.3l3.5 6.44h-7zM636.5 96.5l3.5 6.44h-7zM636.8 97.6l3.5 6.44h-7zM637.1 98.8l3.5 6.44h-7zM637.4 99.9l3.5 6.44h-7zM637.8 101.1l3.5 6.44h-7zM638.3 102.1l3.5 6.44h-7zM639.2 103.0l3.5 6.44h-7zM640.0 103.8l3.5 6.44h-7zM640.9 104.7l3.5 6.44h-7zM642.0 104.4l3.5 6.44h-7zM643.1 104.0l3.5 6.44h-7zM644.2 103.6l3.5 6.44h-7zM645.3 103.1l3.5 6.44h-7zM646.2 102.3l3.5 6.44h-7zM647.1 101.5l3.5 6.44h-7zM648.0 100.7l3.5 6.44h-7zM648.9 99.9l3.5 6.44h-7zM649.8 99.1l3.5 6.44h-7zM650.7 98.3l3.5 6.44h-7zM651.6 97.5l3.5 6.44h-7zM652.5 96.7l3.5 6.44h-7zM653.5 96.0l3.5 6.44h-7zM654.5 95.5l3.5 6.44h-7zM655.6 95.0l3.5 6.44h-7zM656.7 94.4l3.5 6.44h-7zM657.8 94.1l3.5 6.44h-7zM659.0 93.9l3.5 6.44h-7zM660.2 93.6l3.5 6.44h-7zM661.4 93.4l3.5 6.44h-7zM662.5 93.2l3.5 6.44h-7zM663.7 93.2l3.5 6.44h-7zM664.9 93.1l3.5 6.44h-7zM666.1 93.0l3.5 6.44h-7zM667.3 92.9l3.5 6.44h-7zM668.5 92.9l3.5 6.44h-7zM669.7 92.8l3.5 6.44h-7zM670.9 92.7l3.5 6.44h-7zM672.1 92.7l3.5 6.44h-7zM673.3 92.6l3.5 6.44h-7zM674.5 92.6l3.5 6.44h-7zM675.7 92.5l3.5 6.44h-7zM676.9 92.4l3.5 6.44h-7zM678.1 92.4l3.5 6.44h-7zM679.3 92.3l3.5 6.44h-7zM680.5 92.2l3.5 6.44h-7zM681.7 92.2l3.5 6.44h-7zM682.9 92.1l3.5 6.44h-7zM684.1 92.0l3.5 6.44h-7zM685.3 91.9l3.5 6.44h-7zM686.5 91.8l3.5 6.44h-7zM687.7 91.8l3.5 6.44h-7zM688.9 91.7l3.5 6.44h-7zM690.1 91.6l3.5 6.44h-7zM691.3 91.5l3.5 6.44h-7zM692.5 91.4l3.5 6.44h-7zM693.7 91.4l3.5 6.44h-7zM694.9 91.3l3.5 6.44h-7zM696.1 91.0l3.5 6.44h-7zM697.2 90.7l3.5 6.44h-7zM698.4 90.4l3.5 6.44h-7zM699.5 90.1l3.5 6.44h-7zM700.7 89.9l3.5 6.44h-7zM701.9 89.6l3.5 6.44h-7zM703.0 89.3l3.5 6.44h-7zM704.2 89.0l3.5 6.44h-7zM705.3 88.6l3.5 6.44h-7zM706.5 88.2l3.5 6.44h-7zM707.6 87.7l3.5 6.44h-7zM708.7 87.2l3.5 6.44h-7zM709.8 86.7l3.5 6.44h-7zM710.9 86.3l3.5 6.44h-7zM712.0 85.8l3.5 6.44h-7zM716.0 84.8l3.5 6.44h-7zM723.9 86.3l3.5 6.44h-7zM731.7 89.8l3.5 6.44h-7zM738.7 92.8l3.5 6.44h-7zM745.0 95.3l3.5 6.44h-7zM751.4 98.8l3.5 6.44h-7zM756.0 102.2l3.5 6.44h-7zM762.8 104.5l3.5 6.44h-7zM768.5 107.8l3.5 6.44h-7zM778.7 110.2l3.5 6.44h-7zM790.0 112.4l3.5 6.44h-7zM805.5 115.3l3.5 6.44h-7zM828.5 117.8l3.5 6.44h-7zM854.3 120.3l3.5 6.44h-7zM881.7 122.3l3.5 6.44h-7z" clip-path="url(#cTR)"/>
<path fill="#ee7b30" d="M642.5 52.0h7v7h-7zM642.6 53.2h7v7h-7zM642.8 54.4h7v7h-7zM642.9 55.6h7v7h-7zM643.1 56.7h7v7h-7zM643.6 57.8h7v7h-7zM644.1 58.9h7v7h-7zM644.7 60.0h7v7h-7zM645.2 61.1h7v7h-7zM645.7 62.2h7v7h-7zM646.2 63.3h7v7h-7zM646.8 64.3h7v7h-7zM647.5 65.2h7v7h-7zM648.3 66.2h7v7h-7zM649.0 67.1h7v7h-7zM649.8 68.0h7v7h-7zM650.5 69.0h7v7h-7zM651.3 69.9h7v7h-7zM652.0 70.9h7v7h-7zM652.7 71.8h7v7h-7zM653.3 72.9h7v7h-7zM653.9 73.9h7v7h-7zM654.6 74.9h7v7h-7zM655.2 76.0h7v7h-7zM655.9 76.9h7v7h-7zM656.7 77.8h7v7h-7zM657.4 78.8h7v7h-7zM658.2 79.7h7v7h-7zM659.0 80.6h7v7h-7zM659.8 81.5h7v7h-7zM660.6 82.4h7v7h-7zM661.3 83.3h7v7h-7zM662.4 83.9h7v7h-7zM663.4 84.5h7v7h-7zM664.5 85.0h7v7h-7zM665.6 85.5h7v7h-7zM666.6 86.1h7v7h-7zM667.7 86.6h7v7h-7zM668.8 87.0h7v7h-7zM670.0 87.2h7v7h-7zM671.2 87.3h7v7h-7zM672.4 87.4h7v7h-7zM673.6 87.5h7v7h-7zM674.8 87.6h7v7h-7zM676.0 87.7h7v7h-7zM677.2 87.9h7v7h-7zM678.4 88.0h7v7h-7zM679.6 88.1h7v7h-7zM680.8 88.2h7v7h-7zM682.0 88.3h7v7h-7zM683.2 88.5h7v7h-7zM684.3 88.6h7v7h-7zM685.5 88.7h7v7h-7zM686.7 88.8h7v7h-7zM687.9 88.9h7v7h-7zM689.0 89.4h7v7h-7zM690.0 90.0h7v7h-7zM691.0 90.7h7v7h-7zM692.0 91.4h7v7h-7zM693.0 92.1h7v7h-7zM694.0 92.8h7v7h-7zM694.9 93.4h7v7h-7zM695.9 94.1h7v7h-7zM696.9 94.8h7v7h-7zM697.9 95.5h7v7h-7zM698.9 96.2h7v7h-7zM699.9 96.9h7v7h-7zM700.8 97.6h7v7h-7zM701.8 98.3h7v7h-7zM702.8 99.0h7v7h-7zM703.8 99.7h7v7h-7zM704.8 100.3h7v7h-7zM705.8 100.9h7v7h-7zM706.9 101.5h7v7h-7zM707.9 102.1h7v7h-7zM709.0 102.7h7v7h-7zM709.8 103.5h7v7h-7zM710.3 104.6h7v7h-7zM710.9 105.6h7v7h-7zM711.5 106.7h7v7h-7zM712.1 107.7h7v7h-7zM712.5 108.8h7v7h-7zM712.7 110.0h7v7h-7zM712.9 111.2h7v7h-7zM713.1 112.4h7v7h-7zM713.3 113.5h7v7h-7zM713.4 114.7h7v7h-7zM713.6 115.9h7v7h-7zM713.8 117.1h7v7h-7zM714.0 118.3h7v7h-7zM714.1 119.5h7v7h-7zM714.2 120.7h7v7h-7zM714.4 121.9h7v7h-7zM714.5 123.1h7v7h-7zM714.6 124.3h7v7h-7zM714.8 125.5h7v7h-7zM714.9 126.6h7v7h-7zM715.3 127.6h7v7h-7zM716.4 128.1h7v7h-7zM717.6 128.5h7v7h-7zM718.7 128.9h7v7h-7zM719.8 129.3h7v7h-7zM720.9 129.8h7v7h-7zM722.1 130.0h7v7h-7zM723.3 130.0h7v7h-7zM724.5 130.0h7v7h-7zM725.7 130.0h7v7h-7zM726.9 130.0h7v7h-7zM728.1 130.0h7v7h-7zM729.3 130.0h7v7h-7zM730.5 130.0h7v7h-7zM731.7 130.0h7v7h-7zM738.5 127.0h7v7h-7zM743.5 127.0h7v7h-7zM748.5 127.0h7v7h-7zM753.0 127.0h7v7h-7zM758.1 127.0h7v7h-7zM769.5 127.0h7v7h-7zM782.1 122.5h7v7h-7zM801.5 123.5h7v7h-7zM832.5 121.0h7v7h-7z" clip-path="url(#cTR)"/>
<path fill="#ee7b30" d="M647.5 52.3l3.5 6.44h-7zM647.9 53.4l3.5 6.44h-7zM648.3 54.6l3.5 6.44h-7zM648.6 55.7l3.5 6.44h-7zM649.0 56.8l3.5 6.44h-7zM649.7 57.8l3.5 6.44h-7zM650.4 58.8l3.5 6.44h-7zM651.1 59.8l3.5 6.44h-7zM651.8 60.7l3.5 6.44h-7zM652.5 61.7l3.5 6.44h-7zM653.2 62.7l3.5 6.44h-7zM653.9 63.7l3.5 6.44h-7zM654.7 64.6l3.5 6.44h-7zM655.5 65.5l3.5 6.44h-7zM656.2 66.4l3.5 6.44h-7zM657.0 67.3l3.5 6.44h-7zM657.8 68.2l3.5 6.44h-7zM658.6 69.1l3.5 6.44h-7zM659.4 70.0l3.5 6.44h-7zM660.1 71.0l3.5 6.44h-7zM660.7 72.0l3.5 6.44h-7zM661.4 73.0l3.5 6.44h-7zM662.0 74.1l3.5 6.44h-7zM662.6 75.1l3.5 6.44h-7zM663.3 76.1l3.5 6.44h-7zM664.0 77.0l3.5 6.44h-7zM664.8 77.9l3.5 6.44h-7zM665.6 78.9l3.5 6.44h-7zM666.3 79.8l3.5 6.44h-7zM667.1 80.7l3.5 6.44h-7zM667.9 81.6l3.5 6.44h-7zM668.9 82.1l3.5 6.44h-7zM670.1 82.5l3.5 6.44h-7zM671.2 82.9l3.5 6.44h-7zM672.3 83.3l3.5 6.44h-7zM673.5 83.7l3.5 6.44h-7zM674.6 84.1l3.5 6.44h-7zM675.8 84.3l3.5 6.44h-7zM677.0 84.3l3.5 6.44h-7zM678.2 84.4l3.5 6.44h-7zM679.4 84.4l3.5 6.44h-7zM680.6 84.5l3.5 6.44h-7zM681.8 84.5l3.5 6.44h-7zM683.0 84.5l3.5 6.44h-7zM684.2 84.6l3.5 6.44h-7zM685.4 84.6l3.5 6.44h-7zM686.6 84.7l3.5 6.44h-7zM687.8 84.7l3.5 6.44h-7zM689.0 84.7l3.5 6.44h-7zM690.2 84.8l3.5 6.44h-7zM691.4 84.8l3.5 6.44h-7zM692.5 84.9l3.5 6.44h-7zM693.7 85.0l3.5 6.44h-7zM694.9 85.0l3.5 6.44h-7zM696.1 85.1l3.5 6.44h-7zM697.3 85.1l3.5 6.44h-7zM698.5 85.2l3.5 6.44h-7zM699.7 85.3l3.5 6.44h-7zM700.9 85.5l3.5 6.44h-7zM702.1 85.7l3.5 6.44h-7zM703.3 85.9l3.5 6.44h-7zM704.5 86.1l3.5 6.44h-7zM705.6 86.3l3.5 6.44h-7zM706.8 86.6l3.5 6.44h-7zM708.0 86.8l3.5 6.44h-7zM709.0 87.4l3.5 6.44h-7zM710.0 88.1l3.5 6.44h-7zM711.0 88.8l3.5 6.44h-7zM712.0 89.4l3.5 6.44h-7zM713.0 90.1l3.5 6.44h-7zM714.0 90.8l3.5 6.44h-7zM714.8 91.6l3.5 6.44h-7zM715.7 92.5l3.5 6.44h-7zM716.5 93.3l3.5 6.44h-7zM717.4 94.2l3.5 6.44h-7zM718.2 95.0l3.5 6.44h-7zM723.0 99.3l3.5 6.44h-7zM729.3 102.3l3.5 6.44h-7zM734.8 105.3l3.5 6.44h-7zM741.8 107.3l3.5 6.44h-7zM750.0 110.2l3.5 6.44h-7zM758.0 113.6l3.5 6.44h-7zM766.0 115.8l3.5 6.44h-7zM773.0 118.2l3.5 6.44h-7zM785.6 121.1l3.5 6.44h-7zM805.0 122.8l3.5 6.44h-7zM836.0 124.8l3.5 6.44h-7z" clip-path="url(#cTR)"/>
<path fill="#1f7a2c" d="M648.0 33.0h7v7h-7zM648.4 34.1h7v7h-7zM648.8 35.3h7v7h-7zM649.1 36.4h7v7h-7zM649.5 37.6h7v7h-7zM649.9 38.7h7v7h-7zM650.3 39.8h7v7h-7zM650.8 40.9h7v7h-7zM651.2 42.0h7v7h-7zM651.7 43.2h7v7h-7zM652.1 44.3h7v7h-7zM652.6 45.4h7v7h-7zM653.0 46.5h7v7h-7zM653.4 47.6h7v7h-7zM653.9 48.7h7v7h-7zM654.3 49.8h7v7h-7zM654.8 51.0h7v7h-7zM655.3 52.0h7v7h-7zM656.0 53.0h7v7h-7zM656.6 54.0h7v7h-7zM657.3 55.0h7v7h-7zM657.9 56.0h7v7h-7zM658.6 57.1h7v7h-7zM659.2 58.1h7v7h-7zM659.9 59.1h7v7h-7zM660.5 60.1h7v7h-7zM661.2 61.1h7v7h-7zM661.8 62.1h7v7h-7zM662.5 63.1h7v7h-7zM663.1 64.1h7v7h-7zM663.8 65.1h7v7h-7zM664.5 66.1h7v7h-7zM665.2 67.1h7v7h-7zM665.9 68.1h7v7h-7zM666.6 69.0h7v7h-7zM667.5 69.8h7v7h-7zM668.4 70.6h7v7h-7zM669.3 71.3h7v7h-7zM670.2 72.1h7v7h-7zM671.2 72.9h7v7h-7zM672.1 73.7h7v7h-7zM673.1 74.3h7v7h-7zM674.2 74.8h7v7h-7zM675.2 75.4h7v7h-7zM676.3 75.9h7v7h-7zM677.4 76.4h7v7h-7zM678.5 77.0h7v7h-7zM679.5 77.5h7v7h-7zM680.7 77.9h7v7h-7zM681.8 78.3h7v7h-7zM682.9 78.7h7v7h-7zM684.1 79.1h7v7h-7zM685.2 79.5h7v7h-7zM686.3 79.9h7v7h-7zM687.5 80.3h7v7h-7zM688.6 80.7h7v7h-7zM689.7 81.1h7v7h-7zM690.8 81.6h7v7h-7zM691.9 82.1h7v7h-7zM693.0 82.6h7v7h-7zM694.1 83.0h7v7h-7zM695.2 83.5h7v7h-7zM696.3 84.0h7v7h-7zM697.4 84.5h7v7h-7zM698.5 85.0h7v7h-7zM699.5 85.7h7v7h-7zM700.5 86.4h7v7h-7zM701.4 87.1h7v7h-7zM702.4 87.7h7v7h-7zM703.4 88.4h7v7h-7zM704.2 89.4h7v7h-7zM704.9 90.3h7v7h-7zM705.6 91.3h7v7h-7zM706.3 92.2h7v7h-7zM706.7 93.4h7v7h-7zM707.1 94.5h7v7h-7zM707.4 95.7h7v7h-7zM707.7 96.8h7v7h-7zM708.1 98.0h7v7h-7zM708.4 99.1h7v7h-7zM708.6 100.3h7v7h-7zM708.7 101.5h7v7h-7zM708.8 102.7h7v7h-7zM708.9 103.9h7v7h-7zM709.0 105.1h7v7h-7zM709.1 106.3h7v7h-7zM709.2 107.5h7v7h-7zM709.3 108.7h7v7h-7zM709.4 109.9h7v7h-7zM709.5 111.1h7v7h-7zM709.5 112.3h7v7h-7zM709.5 113.5h7v7h-7zM709.5 114.7h7v7h-7zM709.5 115.9h7v7h-7zM709.5 117.1h7v7h-7zM709.5 118.3h7v7h-7zM709.5 119.5h7v7h-7zM709.5 120.7h7v7h-7zM709.5 121.9h7v7h-7zM709.5 123.1h7v7h-7zM709.5 124.3h7v7h-7zM709.6 125.5h7v7h-7zM709.6 126.7h7v7h-7zM709.7 127.9h7v7h-7zM709.8 129.1h7v7h-7zM709.9 130.3h7v7h-7zM709.9 131.5h7v7h-7zM711.8 137.9h7v7h-7zM716.2 141.1h7v7h-7zM720.5 143.3h7v7h-7zM722.7 147.7h7v7h-7zM728.2 144.5h7v7h-7zM735.3 139.0h7v7h-7zM743.5 135.7h7v7h-7zM746.8 141.1h7v7h-7zM749.0 141.8h7v7h-7zM754.5 141.1h7v7h-7zM757.5 140.0h7v7h-7zM769.5 137.7h7v7h-7zM780.5 136.1h7v7h-7z" clip-path="url(#cTR)"/>
<path fill="#1f7a2c" d="M653.0 33.3l3.5 6.44h-7zM653.5 34.4l3.5 6.44h-7zM654.1 35.4l3.5 6.44h-7zM654.6 36.5l3.5 6.44h-7zM655.1 37.6l3.5 6.44h-7zM655.7 38.6l3.5 6.44h-7zM656.2 39.7l3.5 6.44h-7zM656.6 40.9l3.5 6.44h-7zM657.1 42.0l3.5 6.44h-7zM657.5 43.1l3.5 6.44h-7zM658.0 44.2l3.5 6.44h-7zM658.4 45.3l3.5 6.44h-7zM658.9 46.4l3.5 6.44h-7zM659.3 47.5l3.5 6.44h-7zM659.7 48.6l3.5 6.44h-7zM660.2 49.8l3.5 6.44h-7zM660.6 50.9l3.5 6.44h-7zM661.1 52.0l3.5 6.44h-7zM661.8 53.0l3.5 6.44h-7zM662.4 54.0l3.5 6.44h-7zM663.1 55.0l3.5 6.44h-7zM663.7 56.0l3.5 6.44h-7zM664.4 57.0l3.5 6.44h-7zM665.0 58.0l3.5 6.44h-7zM665.7 59.0l3.5 6.44h-7zM666.3 60.0l3.5 6.44h-7zM667.0 61.0l3.5 6.44h-7zM667.6 62.1l3.5 6.44h-7zM668.3 63.1l3.5 6.44h-7zM668.9 64.1l3.5 6.44h-7zM669.8 64.9l3.5 6.44h-7zM670.7 65.7l3.5 6.44h-7zM671.6 66.5l3.5 6.44h-7zM672.5 67.3l3.5 6.44h-7zM673.4 68.0l3.5 6.44h-7zM674.5 68.5l3.5 6.44h-7zM675.6 69.1l3.5 6.44h-7zM676.7 69.6l3.5 6.44h-7zM677.7 70.1l3.5 6.44h-7zM678.8 70.7l3.5 6.44h-7zM679.9 71.2l3.5 6.44h-7zM681.0 71.6l3.5 6.44h-7zM682.2 71.9l3.5 6.44h-7zM683.3 72.3l3.5 6.44h-7zM684.5 72.7l3.5 6.44h-7zM685.6 73.0l3.5 6.44h-7zM686.8 73.4l3.5 6.44h-7zM687.9 73.7l3.5 6.44h-7zM689.0 74.1l3.5 6.44h-7zM690.2 74.4l3.5 6.44h-7zM691.3 74.8l3.5 6.44h-7zM692.5 75.1l3.5 6.44h-7zM693.6 75.5l3.5 6.44h-7zM694.8 75.8l3.5 6.44h-7zM695.9 76.2l3.5 6.44h-7zM697.1 76.5l3.5 6.44h-7zM698.2 76.8l3.5 6.44h-7zM699.4 77.2l3.5 6.44h-7zM700.5 77.5l3.5 6.44h-7zM701.7 77.9l3.5 6.44h-7zM702.8 78.2l3.5 6.44h-7zM703.9 78.7l3.5 6.44h-7zM705.0 79.3l3.5 6.44h-7zM706.1 79.8l3.5 6.44h-7zM707.1 80.3l3.5 6.44h-7zM708.2 80.9l3.5 6.44h-7zM709.3 81.4l3.5 6.44h-7zM710.2 82.1l3.5 6.44h-7zM710.8 83.2l3.5 6.44h-7zM711.4 84.2l3.5 6.44h-7zM712.0 85.2l3.5 6.44h-7zM712.6 86.3l3.5 6.44h-7zM713.2 87.3l3.5 6.44h-7zM713.8 88.4l3.5 6.44h-7zM714.4 89.4l3.5 6.44h-7zM715.0 90.4l3.5 6.44h-7zM715.7 91.4l3.5 6.44h-7zM716.3 92.4l3.5 6.44h-7zM716.9 93.5l3.5 6.44h-7zM717.6 94.5l3.5 6.44h-7zM718.2 95.5l3.5 6.44h-7zM723.9 101.3l3.5 6.44h-7zM728.5 103.8l3.5 6.44h-7zM734.0 106.8l3.5 6.44h-7zM738.7 109.3l3.5 6.44h-7zM743.4 111.8l3.5 6.44h-7zM748.0 114.8l3.5 6.44h-7zM752.0 116.3l3.5 6.44h-7zM756.0 118.2l3.5 6.44h-7zM762.8 120.4l3.5 6.44h-7zM773.0 122.8l3.5 6.44h-7zM784.5 125.0l3.5 6.44h-7z" clip-path="url(#cTR)"/>
<path fill="#1a5e8a" d="M584.1 513.6h6.8v6.8h-6.8zM584.1 512.4h6.8v6.8h-6.8zM584.1 511.2h6.8v6.8h-6.8zM584.1 510.0h6.8v6.8h-6.8zM584.1 508.8h6.8v6.8h-6.8zM584.1 507.6h6.8v6.8h-6.8zM584.1 506.4h6.8v6.8h-6.8zM584.1 505.2h6.8v6.8h-6.8zM584.1 504.0h6.8v6.8h-6.8zM584.1 502.8h6.8v6.8h-6.8zM584.1 501.6h6.8v6.8h-6.8zM584.1 500.4h6.8v6.8h-6.8zM584.2 499.2h6.8v6.8h-6.8zM584.2 498.0h6.8v6.8h-6.8zM584.3 496.8h6.8v6.8h-6.8zM584.3 495.6h6.8v6.8h-6.8zM584.3 494.4h6.8v6.8h-6.8zM584.4 493.2h6.8v6.8h-6.8zM584.4 492.0h6.8v6.8h-6.8zM584.5 490.8h6.8v6.8h-6.8zM584.5 489.6h6.8v6.8h-6.8zM584.5 488.4h6.8v6.8h-6.8zM584.6 487.2h6.8v6.8h-6.8zM585.0 486.2h6.8v6.8h-6.8zM585.8 485.2h6.8v6.8h-6.8zM586.5 484.3h6.8v6.8h-6.8zM587.3 483.4h6.8v6.8h-6.8zM588.4 483.0h6.8v6.8h-6.8zM589.6 482.8h6.8v6.8h-6.8zM590.7 482.6h6.8v6.8h-6.8zM591.9 482.4h6.8v6.8h-6.8zM593.1 482.2h6.8v6.8h-6.8zM594.3 481.9h6.8v6.8h-6.8zM595.4 481.5h6.8v6.8h-6.8zM596.6 481.2h6.8v6.8h-6.8zM597.7 480.8h6.8v6.8h-6.8zM598.9 480.5h6.8v6.8h-6.8zM600.0 480.1h6.8v6.8h-6.8zM601.1 479.8h6.8v6.8h-6.8zM602.3 479.4h6.8v6.8h-6.8zM603.4 479.1h6.8v6.8h-6.8zM604.6 478.7h6.8v6.8h-6.8zM605.7 478.4h6.8v6.8h-6.8zM606.9 478.0h6.8v6.8h-6.8zM608.0 477.7h6.8v6.8h-6.8zM609.2 477.3h6.8v6.8h-6.8zM610.3 477.0h6.8v6.8h-6.8zM611.5 476.6h6.8v6.8h-6.8zM612.6 476.3h6.8v6.8h-6.8zM613.8 475.9h6.8v6.8h-6.8zM614.9 475.6h6.8v6.8h-6.8zM616.1 475.3h6.8v6.8h-6.8zM617.2 475.0h6.8v6.8h-6.8zM618.4 474.7h6.8v6.8h-6.8zM619.6 474.4h6.8v6.8h-6.8zM620.8 474.2h6.8v6.8h-6.8zM621.9 473.9h6.8v6.8h-6.8zM623.1 473.6h6.8v6.8h-6.8zM624.3 473.3h6.8v6.8h-6.8zM625.4 473.1h6.8v6.8h-6.8zM626.6 472.8h6.8v6.8h-6.8zM627.8 472.5h6.8v6.8h-6.8zM628.9 472.3h6.8v6.8h-6.8zM630.1 472.0h6.8v6.8h-6.8zM644.6 469.1h6.8v6.8h-6.8zM656.6 467.1h6.8v6.8h-6.8zM669.6 466.3h6.8v6.8h-6.8zM683.1 465.2h6.8v6.8h-6.8zM700.6 463.9h6.8v6.8h-6.8zM721.9 461.6h6.8v6.8h-6.8zM746.4 459.7h6.8v6.8h-6.8zM774.0 457.8h6.8v6.8h-6.8zM808.7 455.4h6.8v6.8h-6.8z" clip-path="url(#cBR)"/>
<path fill="#1a5e8a" d="M587.5 511.7l3.6 6.624h-7.2zM587.5 510.5l3.6 6.624h-7.2zM587.6 509.3l3.6 6.624h-7.2zM587.6 508.1l3.6 6.624h-7.2zM587.6 506.9l3.6 6.624h-7.2zM587.6 505.7l3.6 6.624h-7.2zM587.7 504.5l3.6 6.624h-7.2zM587.7 503.3l3.6 6.624h-7.2zM587.7 502.1l3.6 6.624h-7.2zM587.8 500.9l3.6 6.624h-7.2zM587.8 499.7l3.6 6.624h-7.2zM587.8 498.5l3.6 6.624h-7.2zM587.9 497.3l3.6 6.624h-7.2zM587.9 496.1l3.6 6.624h-7.2zM587.9 494.9l3.6 6.624h-7.2zM587.9 493.7l3.6 6.624h-7.2zM588.0 492.5l3.6 6.624h-7.2zM588.2 491.3l3.6 6.624h-7.2zM588.7 490.3l3.6 6.624h-7.2zM589.2 489.2l3.6 6.624h-7.2zM589.8 488.1l3.6 6.624h-7.2zM590.3 487.0l3.6 6.624h-7.2zM590.9 486.0l3.6 6.624h-7.2zM591.8 486.0l3.6 6.624h-7.2zM593.0 486.3l3.6 6.624h-7.2zM594.1 486.7l3.6 6.624h-7.2zM595.3 487.1l3.6 6.624h-7.2zM596.4 487.5l3.6 6.624h-7.2zM597.5 487.9l3.6 6.624h-7.2zM598.7 488.2l3.6 6.624h-7.2zM599.8 488.6l3.6 6.624h-7.2zM600.9 489.1l3.6 6.624h-7.2zM602.0 489.5l3.6 6.624h-7.2zM603.1 490.0l3.6 6.624h-7.2zM604.2 490.5l3.6 6.624h-7.2zM605.4 490.9l3.6 6.624h-7.2zM606.5 491.4l3.6 6.624h-7.2zM607.6 491.8l3.6 6.624h-7.2zM608.7 492.3l3.6 6.624h-7.2zM609.8 492.8l3.6 6.624h-7.2zM610.9 493.2l3.6 6.624h-7.2zM612.0 493.7l3.6 6.624h-7.2zM620.0 495.2l3.6 6.624h-7.2zM625.0 496.2l3.6 6.624h-7.2zM631.0 497.9l3.6 6.624h-7.2zM639.6 499.7l3.6 6.624h-7.2zM649.0 500.7l3.6 6.624h-7.2zM659.0 501.7l3.6 6.624h-7.2zM672.0 502.2l3.6 6.624h-7.2zM687.4 501.7l3.6 6.624h-7.2zM705.0 501.7l3.6 6.624h-7.2zM725.8 501.7l3.6 6.624h-7.2zM749.8 501.4l3.6 6.624h-7.2zM777.4 501.7l3.6 6.624h-7.2zM812.0 501.7l3.6 6.624h-7.2z" clip-path="url(#cBR)"/>
<path fill="#ee7b30" d="M585.1 548.6h6.8v6.8h-6.8zM585.1 547.4h6.8v6.8h-6.8zM585.1 546.2h6.8v6.8h-6.8zM585.1 545.0h6.8v6.8h-6.8zM585.1 543.8h6.8v6.8h-6.8zM585.1 542.6h6.8v6.8h-6.8zM585.1 541.4h6.8v6.8h-6.8zM585.1 540.2h6.8v6.8h-6.8zM585.1 539.0h6.8v6.8h-6.8zM585.1 537.8h6.8v6.8h-6.8zM585.1 536.6h6.8v6.8h-6.8zM585.2 535.4h6.8v6.8h-6.8zM585.3 534.2h6.8v6.8h-6.8zM585.3 533.0h6.8v6.8h-6.8zM585.4 531.8h6.8v6.8h-6.8zM585.5 530.6h6.8v6.8h-6.8zM585.6 529.4h6.8v6.8h-6.8zM585.7 528.2h6.8v6.8h-6.8zM585.7 527.0h6.8v6.8h-6.8zM585.8 525.8h6.8v6.8h-6.8zM585.9 524.6h6.8v6.8h-6.8zM586.0 523.4h6.8v6.8h-6.8zM586.1 522.2h6.8v6.8h-6.8zM586.2 521.0h6.8v6.8h-6.8zM586.3 519.8h6.8v6.8h-6.8zM586.4 518.6h6.8v6.8h-6.8zM586.5 517.5h6.8v6.8h-6.8zM586.6 516.3h6.8v6.8h-6.8zM586.8 515.1h6.8v6.8h-6.8zM586.9 513.9h6.8v6.8h-6.8zM587.0 512.7h6.8v6.8h-6.8zM587.1 511.5h6.8v6.8h-6.8zM587.2 510.3h6.8v6.8h-6.8zM587.4 509.1h6.8v6.8h-6.8zM587.5 507.9h6.8v6.8h-6.8zM587.6 506.7h6.8v6.8h-6.8zM587.7 505.5h6.8v6.8h-6.8zM587.8 504.3h6.8v6.8h-6.8zM587.9 503.1h6.8v6.8h-6.8zM588.0 501.9h6.8v6.8h-6.8zM588.1 500.7h6.8v6.8h-6.8zM588.1 499.5h6.8v6.8h-6.8zM588.2 498.3h6.8v6.8h-6.8zM588.3 497.1h6.8v6.8h-6.8zM588.4 495.9h6.8v6.8h-6.8zM588.5 494.7h6.8v6.8h-6.8zM588.6 493.5h6.8v6.8h-6.8zM589.0 492.4h6.8v6.8h-6.8zM589.4 491.3h6.8v6.8h-6.8zM589.8 490.1h6.8v6.8h-6.8zM590.1 489.0h6.8v6.8h-6.8zM590.5 487.9h6.8v6.8h-6.8zM591.3 486.9h6.8v6.8h-6.8zM592.1 486.1h6.8v6.8h-6.8zM593.0 485.2h6.8v6.8h-6.8zM593.9 484.5h6.8v6.8h-6.8zM594.9 483.9h6.8v6.8h-6.8zM596.0 483.3h6.8v6.8h-6.8zM597.0 482.8h6.8v6.8h-6.8zM598.2 482.4h6.8v6.8h-6.8zM599.3 482.0h6.8v6.8h-6.8zM600.4 481.6h6.8v6.8h-6.8zM601.6 481.3h6.8v6.8h-6.8zM602.7 480.9h6.8v6.8h-6.8zM603.9 480.5h6.8v6.8h-6.8zM605.0 480.1h6.8v6.8h-6.8zM606.1 479.8h6.8v6.8h-6.8zM607.3 479.4h6.8v6.8h-6.8zM608.4 479.1h6.8v6.8h-6.8zM609.6 478.7h6.8v6.8h-6.8zM610.7 478.4h6.8v6.8h-6.8zM611.9 478.0h6.8v6.8h-6.8zM613.0 477.7h6.8v6.8h-6.8zM614.2 477.3h6.8v6.8h-6.8zM615.3 477.0h6.8v6.8h-6.8zM616.5 476.6h6.8v6.8h-6.8zM617.6 476.4h6.8v6.8h-6.8zM618.8 476.1h6.8v6.8h-6.8zM620.0 475.8h6.8v6.8h-6.8zM621.2 475.6h6.8v6.8h-6.8zM622.3 475.3h6.8v6.8h-6.8zM623.5 475.0h6.8v6.8h-6.8zM624.7 474.8h6.8v6.8h-6.8zM625.8 474.5h6.8v6.8h-6.8zM627.0 474.2h6.8v6.8h-6.8zM628.2 474.0h6.8v6.8h-6.8zM629.3 473.7h6.8v6.8h-6.8zM630.5 473.4h6.8v6.8h-6.8zM635.3 472.6h6.8v6.8h-6.8zM645.6 470.6h6.8v6.8h-6.8zM656.1 468.6h6.8v6.8h-6.8zM671.3 466.3h6.8v6.8h-6.8zM687.3 463.9h6.8v6.8h-6.8zM705.2 462.1h6.8v6.8h-6.8zM726.9 460.3h6.8v6.8h-6.8zM755.1 457.5h6.8v6.8h-6.8zM788.0 455.1h6.8v6.8h-6.8zM827.2 452.3h6.8v6.8h-6.8z" clip-path="url(#cBR)"/>
<path fill="#ee7b30" d="M590.0 544.7l3.6 6.624h-7.2zM590.0 543.5l3.6 6.624h-7.2zM590.1 542.3l3.6 6.624h-7.2zM590.1 541.1l3.6 6.624h-7.2zM590.2 539.9l3.6 6.624h-7.2zM590.2 538.7l3.6 6.624h-7.2zM590.3 537.5l3.6 6.624h-7.2zM590.3 536.3l3.6 6.624h-7.2zM590.4 535.1l3.6 6.624h-7.2zM590.4 533.9l3.6 6.624h-7.2zM590.5 532.7l3.6 6.624h-7.2zM590.5 531.5l3.6 6.624h-7.2zM590.6 530.3l3.6 6.624h-7.2zM590.7 529.1l3.6 6.624h-7.2zM590.8 527.9l3.6 6.624h-7.2zM590.9 526.7l3.6 6.624h-7.2zM591.0 525.5l3.6 6.624h-7.2zM591.1 524.3l3.6 6.624h-7.2zM591.2 523.1l3.6 6.624h-7.2zM591.3 521.9l3.6 6.624h-7.2zM591.3 520.7l3.6 6.624h-7.2zM591.4 519.5l3.6 6.624h-7.2zM591.5 518.3l3.6 6.624h-7.2zM591.7 517.1l3.6 6.624h-7.2zM591.8 516.0l3.6 6.624h-7.2zM591.9 514.8l3.6 6.624h-7.2zM592.0 513.6l3.6 6.624h-7.2zM592.2 512.4l3.6 6.624h-7.2zM592.3 511.2l3.6 6.624h-7.2zM592.4 510.0l3.6 6.624h-7.2zM592.9 509.1l3.6 6.624h-7.2zM594.1 508.9l3.6 6.624h-7.2zM598.9 508.7l3.6 6.624h-7.2zM604.0 508.7l3.6 6.624h-7.2zM609.2 508.7l3.6 6.624h-7.2zM614.8 508.7l3.6 6.624h-7.2zM621.3 508.7l3.6 6.624h-7.2zM629.3 508.7l3.6 6.624h-7.2zM638.7 508.7l3.6 6.624h-7.2zM649.0 508.7l3.6 6.624h-7.2zM659.2 508.7l3.6 6.624h-7.2zM673.0 508.7l3.6 6.624h-7.2zM690.7 508.5l3.6 6.624h-7.2zM708.6 508.4l3.6 6.624h-7.2zM730.3 507.8l3.6 6.624h-7.2zM758.5 506.9l3.6 6.624h-7.2zM791.4 506.4l3.6 6.624h-7.2zM830.6 505.7l3.6 6.624h-7.2z" clip-path="url(#cBR)"/>
<path fill="#1f7a2c" d="M586.1 499.6h6.8v6.8h-6.8zM586.1 498.4h6.8v6.8h-6.8zM586.1 497.2h6.8v6.8h-6.8zM586.1 496.0h6.8v6.8h-6.8zM586.1 494.8h6.8v6.8h-6.8zM586.1 493.6h6.8v6.8h-6.8zM586.1 492.4h6.8v6.8h-6.8zM586.1 491.2h6.8v6.8h-6.8zM586.2 490.0h6.8v6.8h-6.8zM586.3 488.8h6.8v6.8h-6.8zM586.4 487.6h6.8v6.8h-6.8zM586.5 486.4h6.8v6.8h-6.8zM586.6 485.2h6.8v6.8h-6.8zM587.2 484.6h6.8v6.8h-6.8zM588.4 484.5h6.8v6.8h-6.8zM589.6 484.4h6.8v6.8h-6.8zM590.8 484.3h6.8v6.8h-6.8zM592.0 484.2h6.8v6.8h-6.8zM593.1 484.4h6.8v6.8h-6.8zM594.2 484.9h6.8v6.8h-6.8zM595.2 485.4h6.8v6.8h-6.8zM596.3 486.0h6.8v6.8h-6.8zM597.4 486.5h6.8v6.8h-6.8zM598.6 486.6h6.8v6.8h-6.8zM599.8 486.6h6.8v6.8h-6.8zM601.0 486.6h6.8v6.8h-6.8zM602.2 486.6h6.8v6.8h-6.8zM603.4 486.6h6.8v6.8h-6.8zM604.6 486.6h6.8v6.8h-6.8zM605.8 486.6h6.8v6.8h-6.8zM607.0 486.6h6.8v6.8h-6.8zM608.2 486.6h6.8v6.8h-6.8zM609.4 486.6h6.8v6.8h-6.8zM610.6 486.6h6.8v6.8h-6.8zM611.8 486.6h6.8v6.8h-6.8zM613.0 486.6h6.8v6.8h-6.8zM614.2 486.6h6.8v6.8h-6.8zM615.4 486.5h6.8v6.8h-6.8zM616.6 486.4h6.8v6.8h-6.8zM617.8 486.3h6.8v6.8h-6.8zM619.0 486.2h6.8v6.8h-6.8zM620.1 486.1h6.8v6.8h-6.8zM621.3 486.0h6.8v6.8h-6.8zM622.5 485.9h6.8v6.8h-6.8zM623.7 485.7h6.8v6.8h-6.8zM624.9 485.6h6.8v6.8h-6.8zM626.1 485.5h6.8v6.8h-6.8zM627.3 485.4h6.8v6.8h-6.8zM628.5 485.3h6.8v6.8h-6.8zM629.7 485.2h6.8v6.8h-6.8zM635.3 482.8h6.8v6.8h-6.8zM644.1 480.6h6.8v6.8h-6.8zM654.9 478.1h6.8v6.8h-6.8zM669.6 475.8h6.8v6.8h-6.8zM686.2 473.0h6.8v6.8h-6.8zM706.2 470.4h6.8v6.8h-6.8zM729.8 467.6h6.8v6.8h-6.8zM757.3 464.7h6.8v6.8h-6.8z" clip-path="url(#cBR)"/>
<path fill="#1f7a2c" d="M590.0 499.7l3.6 6.624h-7.2zM590.1 498.5l3.6 6.624h-7.2zM590.1 497.3l3.6 6.624h-7.2zM590.2 496.1l3.6 6.624h-7.2zM590.2 494.9l3.6 6.624h-7.2zM590.3 493.7l3.6 6.624h-7.2zM590.4 492.5l3.6 6.624h-7.2zM590.4 491.3l3.6 6.624h-7.2zM590.5 490.1l3.6 6.624h-7.2zM591.3 489.7l3.6 6.624h-7.2zM592.5 489.6l3.6 6.624h-7.2zM593.7 489.5l3.6 6.624h-7.2zM594.9 489.5l3.6 6.624h-7.2zM596.0 489.8l3.6 6.624h-7.2zM597.2 490.1l3.6 6.624h-7.2zM598.4 490.4l3.6 6.624h-7.2zM599.5 490.8l3.6 6.624h-7.2zM600.7 491.1l3.6 6.624h-7.2zM601.8 491.4l3.6 6.624h-7.2zM603.0 491.7l3.6 6.624h-7.2zM604.2 492.0l3.6 6.624h-7.2zM605.3 492.3l3.6 6.624h-7.2zM606.5 492.5l3.6 6.624h-7.2zM607.7 492.8l3.6 6.624h-7.2zM608.8 493.1l3.6 6.624h-7.2zM610.0 493.3l3.6 6.624h-7.2zM611.2 493.6l3.6 6.624h-7.2zM612.3 493.9l3.6 6.624h-7.2zM613.5 494.1l3.6 6.624h-7.2zM614.7 494.4l3.6 6.624h-7.2zM615.9 494.7l3.6 6.624h-7.2zM620.0 495.2l3.6 6.624h-7.2zM625.0 496.2l3.6 6.624h-7.2zM631.0 497.9l3.6 6.624h-7.2zM639.6 499.7l3.6 6.624h-7.2zM649.0 500.7l3.6 6.624h-7.2zM659.0 501.7l3.6 6.624h-7.2zM673.0 502.2l3.6 6.624h-7.2zM690.0 501.7l3.6 6.624h-7.2zM710.0 501.7l3.6 6.624h-7.2zM733.6 501.7l3.6 6.624h-7.2zM760.7 501.7l3.6 6.624h-7.2z" clip-path="url(#cBR)"/>
<rect x="71" y="13" width="321" height="245" fill="none" stroke="#000" stroke-width="2"/>
<rect x="71" y="337" width="322" height="252" fill="none" stroke="#000" stroke-width="2"/>
<rect x="581" y="18" width="327" height="238.5" fill="none" stroke="#000" stroke-width="2"/>
<rect x="572" y="337.5" width="330" height="251.5" fill="none" stroke="#000" stroke-width="2"/>
</svg></body></html>
